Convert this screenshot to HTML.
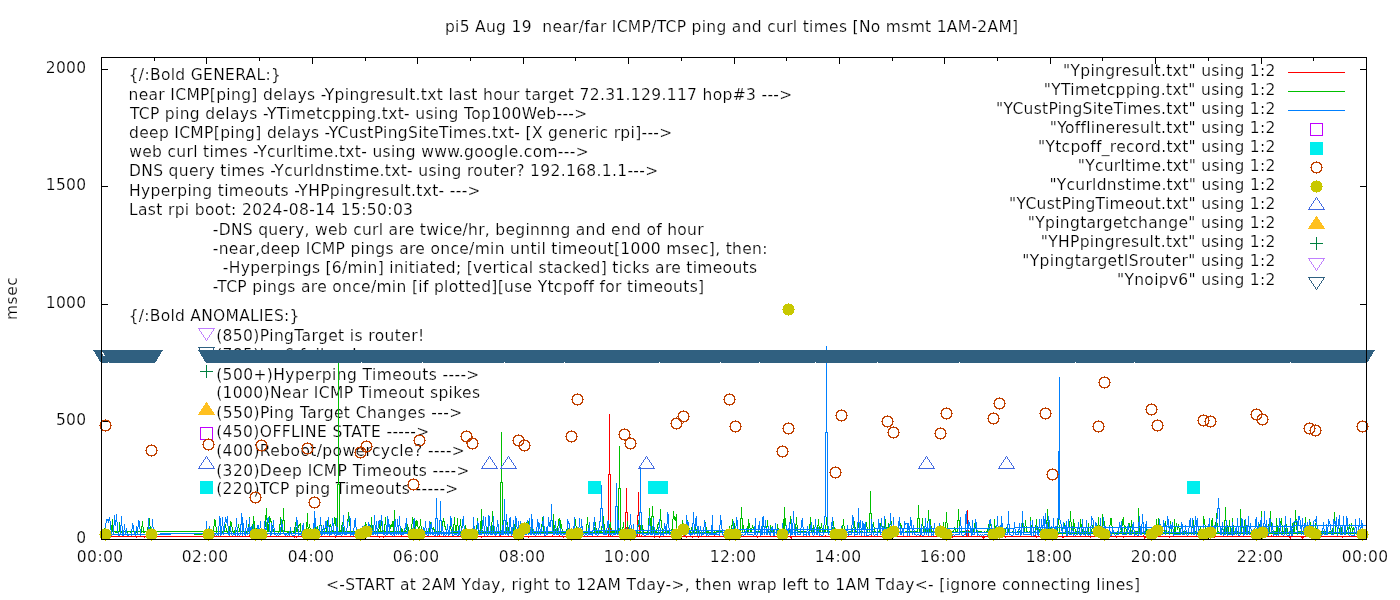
<!DOCTYPE html><html><head><meta charset="utf-8"><title>plot</title><style>html,body{margin:0;padding:0;background:#fff;overflow:hidden}svg{display:block}text{stroke:#fff;stroke-width:.2px;font-variant-ligatures:none}</style></head><body><svg width="1400" height="600" viewBox="0 0 1400 600" font-family="'DejaVu Sans','Liberation Sans',sans-serif" font-size="15.5" fill="#000">
<rect width="1400" height="600" fill="#fff"/>
<g shape-rendering="crispEdges" stroke="#000" stroke-width="1" fill="none">
<path d="M101.5 539 v-6 M101.5 58 v6"/>
<path d="M154.5 539 v-3 M154.5 58 v3"/>
<path d="M206.5 539 v-6 M206.5 58 v6"/>
<path d="M259.5 539 v-3 M259.5 58 v3"/>
<path d="M312.5 539 v-6 M312.5 58 v6"/>
<path d="M365.5 539 v-3 M365.5 58 v3"/>
<path d="M417.5 539 v-6 M417.5 58 v6"/>
<path d="M470.5 539 v-3 M470.5 58 v3"/>
<path d="M523.5 539 v-6 M523.5 58 v6"/>
<path d="M575.5 539 v-3 M575.5 58 v3"/>
<path d="M628.5 539 v-6 M628.5 58 v6"/>
<path d="M681.5 539 v-3 M681.5 58 v3"/>
<path d="M734.5 539 v-6 M734.5 58 v6"/>
<path d="M786.5 539 v-3 M786.5 58 v3"/>
<path d="M839.5 539 v-6 M839.5 58 v6"/>
<path d="M892.5 539 v-3 M892.5 58 v3"/>
<path d="M944.5 539 v-6 M944.5 58 v6"/>
<path d="M997.5 539 v-3 M997.5 58 v3"/>
<path d="M1050.5 539 v-6 M1050.5 58 v6"/>
<path d="M1102.5 539 v-3 M1102.5 58 v3"/>
<path d="M1155.5 539 v-6 M1155.5 58 v6"/>
<path d="M1208.5 539 v-3 M1208.5 58 v3"/>
<path d="M1261.5 539 v-6 M1261.5 58 v6"/>
<path d="M1313.5 539 v-3 M1313.5 58 v3"/>
<path d="M1366.5 539 v-6 M1366.5 58 v6"/>
<path d="M102 539.5 h6 M1366 539.5 h-6"/>
<path d="M102 421.5 h6 M1366 421.5 h-6"/>
<path d="M102 304.5 h6 M1366 304.5 h-6"/>
<path d="M102 186.5 h6 M1366 186.5 h-6"/>
<path d="M102 69.5 h6 M1366 69.5 h-6"/>
</g>
<text x="86.10" y="543.00" text-anchor="end" xml:space="preserve" textLength="9.9" lengthAdjust="spacing">0</text>
<text x="86.10" y="425.00" text-anchor="end" xml:space="preserve" textLength="30.2" lengthAdjust="spacing">500</text>
<text x="86.10" y="308.00" text-anchor="end" xml:space="preserve" textLength="40.4" lengthAdjust="spacing">1000</text>
<text x="86.10" y="190.00" text-anchor="end" xml:space="preserve" textLength="40.4" lengthAdjust="spacing">1500</text>
<text x="86.10" y="73.00" text-anchor="end" xml:space="preserve" textLength="40.4" lengthAdjust="spacing">2000</text>
<text x="100.00" y="561.80" text-anchor="middle" xml:space="preserve" textLength="46.3" lengthAdjust="spacing">00:00</text>
<text x="205.00" y="561.80" text-anchor="middle" xml:space="preserve" textLength="46.3" lengthAdjust="spacing">02:00</text>
<text x="311.00" y="561.80" text-anchor="middle" xml:space="preserve" textLength="46.3" lengthAdjust="spacing">04:00</text>
<text x="416.00" y="561.80" text-anchor="middle" xml:space="preserve" textLength="46.3" lengthAdjust="spacing">06:00</text>
<text x="522.00" y="561.80" text-anchor="middle" xml:space="preserve" textLength="46.3" lengthAdjust="spacing">08:00</text>
<text x="627.00" y="561.80" text-anchor="middle" xml:space="preserve" textLength="46.3" lengthAdjust="spacing">10:00</text>
<text x="733.00" y="561.80" text-anchor="middle" xml:space="preserve" textLength="46.3" lengthAdjust="spacing">12:00</text>
<text x="838.00" y="561.80" text-anchor="middle" xml:space="preserve" textLength="46.3" lengthAdjust="spacing">14:00</text>
<text x="943.00" y="561.80" text-anchor="middle" xml:space="preserve" textLength="46.3" lengthAdjust="spacing">16:00</text>
<text x="1049.00" y="561.80" text-anchor="middle" xml:space="preserve" textLength="46.3" lengthAdjust="spacing">18:00</text>
<text x="1154.00" y="561.80" text-anchor="middle" xml:space="preserve" textLength="46.3" lengthAdjust="spacing">20:00</text>
<text x="1260.00" y="561.80" text-anchor="middle" xml:space="preserve" textLength="46.3" lengthAdjust="spacing">22:00</text>
<text x="1365.00" y="561.80" text-anchor="middle" xml:space="preserve" textLength="46.3" lengthAdjust="spacing">00:00</text>
<text transform="translate(16.7,298.6) rotate(-90)" text-anchor="middle" textLength="43" lengthAdjust="spacing">msec</text>
<text x="128.69" y="80.00" text-anchor="start" xml:space="preserve" textLength="152.2" lengthAdjust="spacing">{/:Bold GENERAL:}</text>
<text x="128.49" y="100.00" text-anchor="start" xml:space="preserve" textLength="663.8" lengthAdjust="spacing">near ICMP[ping] delays -Ypingresult.txt last hour target 72.31.129.117 hop#3 ---&gt;</text>
<text x="129.88" y="118.75" text-anchor="start" xml:space="preserve" textLength="457.4" lengthAdjust="spacing">TCP ping delays -YTimetcpping.txt- using Top100Web---&gt;</text>
<text x="128.98" y="138.00" text-anchor="start" xml:space="preserve" textLength="543.3" lengthAdjust="spacing">deep ICMP[ping] delays -YCustPingSiteTimes.txt- [X generic rpi]---&gt;</text>
<text x="129.13" y="157.00" text-anchor="start" xml:space="preserve" textLength="459.5" lengthAdjust="spacing">web curl times -Ycurltime.txt- using www.google.com---&gt;</text>
<text x="129.00" y="176.25" text-anchor="start" xml:space="preserve" textLength="529.2" lengthAdjust="spacing">DNS query times -Ycurldnstime.txt- using router? 192.168.1.1---&gt;</text>
<text x="128.99" y="195.75" text-anchor="start" xml:space="preserve" textLength="351.6" lengthAdjust="spacing">Hyperping timeouts -YHPpingresult.txt- ---&gt;</text>
<text x="128.99" y="214.50" text-anchor="start" xml:space="preserve" textLength="284.0" lengthAdjust="spacing">Last rpi boot: 2024-08-14 15:50:03</text>
<text x="212.80" y="235.00" text-anchor="start" xml:space="preserve" textLength="490.8" lengthAdjust="spacing">-DNS query, web curl are twice/hr, beginnng and end of hour</text>
<text x="212.80" y="253.75" text-anchor="start" xml:space="preserve" textLength="554.7" lengthAdjust="spacing">-near,deep ICMP pings are once/min until timeout[1000 msec], then:</text>
<text x="222.80" y="272.50" text-anchor="start" xml:space="preserve" textLength="534.2" lengthAdjust="spacing">-Hyperpings [6/min] initiated; [vertical stacked] ticks are timeouts</text>
<text x="212.80" y="291.75" text-anchor="start" xml:space="preserve" textLength="491.3" lengthAdjust="spacing">-TCP pings are once/min [if plotted][use Ytcpoff for timeouts]</text>
<text x="128.69" y="320.75" text-anchor="start" xml:space="preserve" textLength="170.7" lengthAdjust="spacing">{/:Bold ANOMALIES:}</text>
<text x="216.17" y="340.75" text-anchor="start" xml:space="preserve" textLength="208.0" lengthAdjust="spacing">(850)PingTarget is router!</text>
<text x="216.17" y="360.00" text-anchor="start" xml:space="preserve" textLength="141.2" lengthAdjust="spacing">(785)Ipv6 failure!</text>
<text x="216.17" y="379.50" text-anchor="start" xml:space="preserve" textLength="263.2" lengthAdjust="spacing">(500+)Hyperping Timeouts ----&gt;</text>
<text x="216.17" y="397.50" text-anchor="start" xml:space="preserve" textLength="263.9" lengthAdjust="spacing">(1000)Near ICMP Timeout spikes</text>
<text x="216.17" y="417.50" text-anchor="start" xml:space="preserve" textLength="246.1" lengthAdjust="spacing">(550)Ping Target Changes ---&gt;</text>
<text x="216.17" y="437.00" text-anchor="start" xml:space="preserve" textLength="213.1" lengthAdjust="spacing">(450)OFFLINE STATE -----&gt;</text>
<text x="216.17" y="456.00" text-anchor="start" xml:space="preserve" textLength="248.7" lengthAdjust="spacing">(400)Reboot/powercycle? ----&gt;</text>
<text x="216.17" y="475.50" text-anchor="start" xml:space="preserve" textLength="253.3" lengthAdjust="spacing">(320)Deep ICMP Timeouts ----&gt;</text>
<text x="216.17" y="494.25" text-anchor="start" xml:space="preserve" textLength="242.2" lengthAdjust="spacing">(220)TCP ping Timeouts -----&gt;</text>
<text x="444.88" y="31.75" text-anchor="start" xml:space="preserve" textLength="573.3" lengthAdjust="spacing">pi5 Aug 19  near/far ICMP/TCP ping and curl times [No msmt 1AM-2AM]</text>
<text x="325.96" y="589.50" text-anchor="start" xml:space="preserve" textLength="814.1" lengthAdjust="spacing">&lt;-START at 2AM Yday, right to 12AM Tday-&gt;, then wrap left to 1AM Tday&lt;- [ignore connecting lines]</text>
<text x="1063.05" y="76.00" text-anchor="start" xml:space="preserve" textLength="212.3" lengthAdjust="spacing">&quot;Ypingresult.txt&quot; using 1:2</text>
<text x="1043.77" y="95.00" text-anchor="start" xml:space="preserve" textLength="231.6" lengthAdjust="spacing">&quot;YTimetcpping.txt&quot; using 1:2</text>
<text x="996.05" y="114.00" text-anchor="start" xml:space="preserve" textLength="279.3" lengthAdjust="spacing">&quot;YCustPingSiteTimes.txt&quot; using 1:2</text>
<text x="1049.77" y="133.00" text-anchor="start" xml:space="preserve" textLength="225.6" lengthAdjust="spacing">&quot;Yofflineresult.txt&quot; using 1:2</text>
<text x="1038.05" y="152.00" text-anchor="start" xml:space="preserve" textLength="237.3" lengthAdjust="spacing">&quot;Ytcpoff_record.txt&quot; using 1:2</text>
<text x="1077.77" y="171.00" text-anchor="start" xml:space="preserve" textLength="197.6" lengthAdjust="spacing">&quot;Ycurltime.txt&quot; using 1:2</text>
<text x="1049.41" y="190.00" text-anchor="start" xml:space="preserve" textLength="226.0" lengthAdjust="spacing">&quot;Ycurldnstime.txt&quot; using 1:2</text>
<text x="1009.05" y="209.00" text-anchor="start" xml:space="preserve" textLength="266.3" lengthAdjust="spacing">&quot;YCustPingTimeout.txt&quot; using 1:2</text>
<text x="1027.77" y="228.00" text-anchor="start" xml:space="preserve" textLength="247.6" lengthAdjust="spacing">&quot;Ypingtargetchange&quot; using 1:2</text>
<text x="1040.77" y="247.00" text-anchor="start" xml:space="preserve" textLength="234.6" lengthAdjust="spacing">&quot;YHPpingresult.txt&quot; using 1:2</text>
<text x="1022.35" y="266.00" text-anchor="start" xml:space="preserve" textLength="253.0" lengthAdjust="spacing">&quot;YpingtargetISrouter&quot; using 1:2</text>
<text x="1117.05" y="285.00" text-anchor="start" xml:space="preserve" textLength="158.3" lengthAdjust="spacing">&quot;Ynoipv6&quot; using 1:2</text>
<path d="M206.5 340.5 L198.5 328.5 L214.5 328.5 Z" fill="none" stroke="#c080ff" shape-rendering="crispEdges"/>
<path d="M206.5 359.5 L198.5 347.5 L214.5 347.5 Z" fill="none" stroke="#306080" shape-rendering="crispEdges"/>
<path d="M200.0 371.5 h13 M206.5 365.0 v13" stroke="#008040" shape-rendering="crispEdges"/>
<path d="M206.5 402.5 L198.5 414.5 L214.5 414.5 Z" fill="#ffc020" stroke="#ffc020" shape-rendering="crispEdges"/>
<rect x="200.5" y="427.5" width="12" height="12" fill="none" stroke="#c000ff" shape-rendering="crispEdges"/>
<path d="M206.5 456.5 L198.5 468.5 L214.5 468.5 Z" fill="none" stroke="#4169e1" shape-rendering="crispEdges"/>
<rect x="200.0" y="481.0" width="13" height="13" fill="#00eeee" shape-rendering="crispEdges"/>
<polyline fill="none" stroke="#ff0000" stroke-width="1" shape-rendering="crispEdges" stroke-linejoin="miter" points="206.5,536.5 207.5,536.5 208.5,536.5 209.5,535.5 210.5,536.5 211.5,536.5 212.5,536.5 213.5,536.5 213.5,536.5 214.5,536.5 215.5,536.5 216.5,536.5 217.5,536.5 218.5,536.5 219.5,536.5 220.5,536.5 220.5,536.5 221.5,536.5 222.5,536.5 223.5,536.5 224.5,536.5 225.5,536.5 226.5,536.5 227.5,536.5 228.5,536.5 228.5,536.5 229.5,536.5 230.5,536.5 231.5,536.5 232.5,536.5 233.5,536.5 234.5,536.5 235.5,536.5 235.5,536.5 236.5,536.5 237.5,536.5 238.5,536.5 239.5,536.5 240.5,536.5 241.5,536.5 242.5,536.5 242.5,536.5 243.5,536.5 244.5,536.5 245.5,536.5 246.5,536.5 247.5,536.5 248.5,536.5 249.5,535.5 249.5,536.5 250.5,536.5 251.5,536.5 252.5,536.5 253.5,536.5 254.5,536.5 255.5,536.5 256.5,536.5 256.5,537.5 257.5,537.5 258.5,536.5 259.5,536.5 260.5,536.5 261.5,536.5 262.5,536.5 263.5,536.5 264.5,536.5 264.5,536.5 265.5,536.5 266.5,536.5 267.5,536.5 268.5,536.5 269.5,536.5 270.5,536.5 271.5,536.5 271.5,536.5 272.5,536.5 273.5,536.5 274.5,536.5 275.5,536.5 276.5,536.5 277.5,536.5 278.5,536.5 278.5,536.5 279.5,536.5 280.5,536.5 281.5,536.5 282.5,536.5 283.5,536.5 284.5,536.5 285.5,536.5 285.5,536.5 286.5,536.5 287.5,536.5 288.5,536.5 289.5,536.5 290.5,536.5 291.5,536.5 292.5,536.5 293.5,536.5 293.5,536.5 294.5,537.5 295.5,536.5 296.5,537.5 297.5,536.5 298.5,536.5 299.5,536.5 300.5,536.5 300.5,536.5 301.5,536.5 302.5,536.5 303.5,536.5 304.5,536.5 305.5,536.5 306.5,536.5 307.5,536.5 307.5,536.5 308.5,536.5 309.5,536.5 310.5,537.5 311.5,536.5 312.5,536.5 313.5,536.5 314.5,536.5 314.5,536.5 315.5,536.5 316.5,536.5 317.5,536.5 318.5,536.5 319.5,536.5 320.5,536.5 321.5,536.5 321.5,536.5 322.5,536.5 323.5,536.5 324.5,536.5 325.5,536.5 326.5,536.5 327.5,536.5 328.5,536.5 329.5,536.5 329.5,536.5 330.5,536.5 331.5,536.5 332.5,536.5 333.5,536.5 334.5,536.5 335.5,537.5 336.5,536.5 336.5,536.5 337.5,536.5 338.5,536.5 339.5,536.5 340.5,536.5 341.5,536.5 342.5,536.5 343.5,536.5 343.5,536.5 344.5,536.5 345.5,536.5 346.5,536.5 347.5,536.5 348.5,536.5 349.5,536.5 350.5,536.5 350.5,536.5 351.5,536.5 352.5,536.5 353.5,536.5 354.5,536.5 355.5,536.5 356.5,536.5 357.5,536.5 358.5,536.5 358.5,536.5 359.5,536.5 360.5,536.5 361.5,536.5 362.5,536.5 363.5,536.5 364.5,536.5 365.5,536.5 365.5,536.5 366.5,536.5 367.5,536.5 368.5,536.5 369.5,536.5 370.5,535.5 371.5,536.5 372.5,536.5 372.5,536.5 373.5,536.5 374.5,536.5 375.5,536.5 376.5,536.5 377.5,536.5 378.5,536.5 379.5,537.5 379.5,536.5 380.5,536.5 381.5,536.5 382.5,536.5 383.5,537.5 384.5,536.5 385.5,536.5 386.5,536.5 387.5,536.5 387.5,536.5 388.5,536.5 389.5,536.5 390.5,536.5 391.5,536.5 392.5,536.5 393.5,536.5 394.5,536.5 394.5,536.5 395.5,536.5 396.5,536.5 397.5,536.5 398.5,536.5 399.5,536.5 400.5,536.5 401.5,536.5 401.5,535.5 402.5,536.5 403.5,536.5 404.5,536.5 405.5,536.5 406.5,536.5 407.5,536.5 408.5,536.5 408.5,535.5 409.5,536.5 410.5,536.5 411.5,536.5 412.5,536.5 413.5,536.5 414.5,536.5 415.5,536.5 415.5,536.5 416.5,536.5 417.5,536.5 418.5,536.5 419.5,536.5 420.5,536.5 421.5,536.5 422.5,536.5 423.5,536.5 423.5,536.5 424.5,536.5 425.5,536.5 426.5,536.5 427.5,536.5 428.5,536.5 429.5,536.5 430.5,536.5 430.5,536.5 431.5,536.5 432.5,536.5 433.5,536.5 434.5,536.5 435.5,536.5 436.5,536.5 437.5,536.5 437.5,536.5 438.5,536.5 439.5,535.5 440.5,536.5 441.5,536.5 442.5,536.5 443.5,536.5 444.5,536.5 444.5,536.5 445.5,536.5 446.5,536.5 447.5,536.5 448.5,536.5 449.5,536.5 450.5,536.5 451.5,536.5 452.5,536.5 452.5,536.5 453.5,536.5 454.5,536.5 455.5,536.5 456.5,536.5 457.5,536.5 458.5,536.5 459.5,536.5 459.5,536.5 460.5,536.5 461.5,536.5 462.5,536.5 463.5,536.5 464.5,536.5 465.5,536.5 466.5,536.5 466.5,536.5 467.5,536.5 468.5,536.5 469.5,536.5 470.5,536.5 471.5,536.5 472.5,536.5 473.5,536.5 473.5,536.5 474.5,536.5 475.5,536.5 476.5,536.5 477.5,536.5 478.5,536.5 479.5,536.5 480.5,536.5 481.5,536.5 481.5,537.5 482.5,536.5 483.5,536.5 484.5,536.5 485.5,536.5 486.5,536.5 487.5,536.5 488.5,536.5 488.5,536.5 489.5,536.5 490.5,536.5 491.5,536.5 492.5,536.5 493.5,536.5 494.5,536.5 495.5,536.5 495.5,536.5 496.5,536.5 497.5,536.5 498.5,536.5 499.5,536.5 500.5,535.5 501.5,536.5 502.5,536.5 502.5,536.5 503.5,536.5 504.5,536.5 505.5,536.5 506.5,536.5 507.5,536.5 508.5,536.5 509.5,536.5 509.5,536.5 510.5,536.5 511.5,536.5 512.5,536.5 513.5,536.5 514.5,536.5 515.5,536.5 516.5,535.5 517.5,536.5 517.5,536.5 518.5,536.5 519.5,536.5 520.5,536.5 521.5,536.5 522.5,536.5 523.5,537.5 524.5,536.5 524.5,536.5 525.5,536.5 526.5,536.5 527.5,536.5 528.5,537.5 529.5,536.5 530.5,536.5 531.5,536.5 531.5,536.5 532.5,536.5 533.5,536.5 534.5,536.5 535.5,536.5 536.5,536.5 537.5,536.5 538.5,536.5 538.5,536.5 539.5,536.5 540.5,536.5 541.5,536.5 542.5,536.5 543.5,536.5 544.5,536.5 545.5,536.5 546.5,536.5 546.5,536.5 547.5,536.5 548.5,536.5 549.5,536.5 550.5,536.5 551.5,536.5 552.5,535.5 553.5,536.5 553.5,536.5 554.5,536.5 555.5,536.5 556.5,536.5 557.5,536.5 558.5,536.5 559.5,535.5 560.5,536.5 560.5,536.5 561.5,536.5 562.5,536.5 563.5,537.5 564.5,536.5 565.5,536.5 566.5,536.5 567.5,536.5 567.5,536.5 568.5,536.5 569.5,536.5 570.5,537.5 571.5,536.5 572.5,536.5 573.5,536.5 574.5,536.5 574.5,536.5 575.5,536.5 576.5,536.5 577.5,536.5 578.5,536.5 579.5,536.5 580.5,536.5 581.5,537.5 582.5,536.5 582.5,536.5 583.5,536.5 584.5,536.5 585.5,536.5 586.5,536.5 587.5,536.5 588.5,536.5 589.5,536.5 589.5,536.5 590.5,536.5 591.5,536.5 592.5,536.5 593.5,536.5 594.5,536.5 595.5,536.5 596.5,536.5 596.5,536.5 597.5,536.5 598.5,536.5 599.5,536.5 600.5,536.5 601.5,536.5 602.5,536.5 603.5,536.5 603.5,536.5 604.5,536.5 605.5,536.5 606.5,536.5 607.5,536.5 608.5,536.5 608.5,474.5 609.5,474.5 609.5,413.5 609.5,474.5 610.5,474.5 610.5,536.5 611.5,536.5 611.5,536.5 612.5,536.5 613.5,536.5 614.5,536.5 615.5,536.5 616.5,536.5 617.5,536.5 618.5,536.5 618.5,536.5 619.5,536.5 620.5,535.5 621.5,537.5 622.5,536.5 623.5,536.5 624.5,536.5 625.5,536.5 625.5,512.5 626.5,512.5 626.5,487.5 626.5,512.5 627.5,512.5 627.5,536.5 628.5,536.5 629.5,536.5 630.5,536.5 631.5,536.5 632.5,536.5 632.5,536.5 633.5,536.5 634.5,536.5 635.5,536.5 636.5,536.5 637.5,536.5 637.5,515.5 638.5,515.5 638.5,491.5 638.5,515.5 639.5,515.5 639.5,536.5 640.5,536.5 640.5,536.5 641.5,535.5 642.5,536.5 643.5,536.5 644.5,536.5 645.5,536.5 646.5,536.5 647.5,536.5 647.5,536.5 648.5,536.5 649.5,536.5 650.5,536.5 651.5,536.5 652.5,536.5 653.5,536.5 654.5,536.5 654.5,537.5 655.5,536.5 656.5,536.5 657.5,536.5 658.5,536.5 659.5,537.5 660.5,536.5 661.5,536.5 661.5,536.5 662.5,536.5 663.5,536.5 664.5,536.5 665.5,536.5 666.5,536.5 667.5,536.5 668.5,536.5 668.5,536.5 669.5,536.5 670.5,536.5 671.5,536.5 672.5,536.5 673.5,535.5 674.5,536.5 675.5,536.5 676.5,536.5 676.5,536.5 677.5,536.5 678.5,536.5 679.5,536.5 680.5,536.5 681.5,536.5 682.5,536.5 683.5,536.5 683.5,536.5 684.5,535.5 685.5,536.5 686.5,537.5 687.5,536.5 688.5,536.5 689.5,536.5 690.5,536.5 690.5,536.5 691.5,536.5 692.5,537.5 693.5,536.5 694.5,536.5 695.5,536.5 696.5,536.5 697.5,536.5 697.5,536.5 698.5,537.5 699.5,536.5 700.5,536.5 701.5,536.5 702.5,536.5 703.5,536.5 704.5,536.5 705.5,536.5 705.5,536.5 706.5,536.5 707.5,536.5 708.5,536.5 709.5,536.5 710.5,536.5 711.5,536.5 712.5,536.5 712.5,536.5 713.5,536.5 714.5,535.5 715.5,536.5 716.5,536.5 717.5,536.5 718.5,536.5 719.5,536.5 719.5,536.5 720.5,536.5 721.5,536.5 722.5,536.5 723.5,536.5 724.5,536.5 725.5,536.5 726.5,536.5 726.5,536.5 727.5,536.5 728.5,536.5 729.5,536.5 730.5,536.5 731.5,536.5 732.5,536.5 733.5,536.5 734.5,536.5 734.5,536.5 735.5,536.5 736.5,536.5 737.5,536.5 738.5,536.5 739.5,535.5 740.5,535.5 741.5,536.5 741.5,536.5 742.5,536.5 743.5,536.5 744.5,536.5 745.5,536.5 746.5,536.5 747.5,536.5 748.5,536.5 748.5,536.5 749.5,536.5 750.5,536.5 751.5,536.5 752.5,536.5 753.5,536.5 754.5,536.5 755.5,536.5 755.5,536.5 756.5,536.5 757.5,537.5 758.5,536.5 759.5,536.5 760.5,536.5 761.5,536.5 762.5,536.5 762.5,536.5 763.5,536.5 764.5,536.5 765.5,536.5 766.5,536.5 767.5,536.5 768.5,536.5 769.5,536.5 770.5,536.5 770.5,536.5 771.5,536.5 772.5,536.5 773.5,536.5 774.5,536.5 775.5,536.5 776.5,536.5 777.5,536.5 777.5,536.5 778.5,536.5 779.5,536.5 780.5,536.5 781.5,536.5 782.5,536.5 783.5,536.5 784.5,536.5 784.5,536.5 785.5,536.5 786.5,536.5 787.5,536.5 788.5,536.5 789.5,536.5 790.5,536.5 791.5,538.5 791.5,536.5 792.5,536.5 793.5,536.5 794.5,536.5 795.5,536.5 796.5,536.5 797.5,536.5 798.5,536.5 799.5,536.5 799.5,536.5 800.5,536.5 801.5,536.5 802.5,536.5 803.5,536.5 804.5,536.5 805.5,536.5 806.5,536.5 806.5,536.5 807.5,536.5 808.5,536.5 809.5,536.5 810.5,536.5 811.5,536.5 812.5,536.5 813.5,536.5 813.5,536.5 814.5,536.5 815.5,536.5 816.5,536.5 817.5,536.5 818.5,536.5 819.5,536.5 820.5,536.5 820.5,536.5 821.5,536.5 822.5,536.5 823.5,536.5 824.5,536.5 825.5,535.5 826.5,536.5 827.5,536.5 827.5,536.5 828.5,536.5 829.5,536.5 830.5,536.5 831.5,536.5 832.5,536.5 833.5,536.5 834.5,536.5 835.5,536.5 835.5,536.5 836.5,536.5 837.5,536.5 838.5,536.5 839.5,536.5 840.5,536.5 841.5,536.5 842.5,536.5 842.5,536.5 843.5,536.5 844.5,536.5 845.5,536.5 846.5,536.5 847.5,536.5 848.5,536.5 849.5,536.5 849.5,536.5 850.5,536.5 851.5,536.5 852.5,536.5 853.5,536.5 854.5,536.5 855.5,536.5 856.5,536.5 856.5,536.5 857.5,536.5 858.5,536.5 859.5,536.5 860.5,536.5 861.5,536.5 862.5,536.5 863.5,536.5 864.5,536.5 864.5,536.5 865.5,536.5 866.5,536.5 867.5,536.5 868.5,536.5 869.5,536.5 870.5,536.5 871.5,535.5 871.5,536.5 872.5,536.5 873.5,536.5 874.5,536.5 875.5,536.5 876.5,536.5 877.5,536.5 878.5,536.5 878.5,536.5 879.5,536.5 880.5,536.5 881.5,536.5 882.5,536.5 883.5,536.5 884.5,536.5 885.5,536.5 885.5,536.5 886.5,536.5 887.5,536.5 888.5,536.5 889.5,536.5 890.5,536.5 891.5,537.5 892.5,536.5 893.5,536.5 893.5,536.5 894.5,536.5 895.5,536.5 896.5,536.5 897.5,536.5 898.5,536.5 899.5,536.5 900.5,536.5 900.5,536.5 901.5,536.5 902.5,536.5 903.5,536.5 904.5,536.5 905.5,536.5 906.5,536.5 907.5,536.5 907.5,536.5 908.5,536.5 909.5,536.5 910.5,536.5 911.5,536.5 912.5,536.5 913.5,536.5 914.5,536.5 914.5,536.5 915.5,536.5 916.5,536.5 917.5,536.5 918.5,536.5 919.5,536.5 920.5,535.5 921.5,536.5 921.5,536.5 922.5,536.5 923.5,536.5 924.5,536.5 925.5,536.5 926.5,536.5 927.5,536.5 928.5,536.5 929.5,536.5 929.5,536.5 930.5,536.5 931.5,536.5 932.5,536.5 933.5,536.5 934.5,536.5 935.5,536.5 936.5,536.5 936.5,536.5 937.5,536.5 938.5,536.5 939.5,536.5 940.5,536.5 941.5,537.5 942.5,536.5 943.5,536.5 943.5,536.5 944.5,536.5 945.5,536.5 946.5,536.5 947.5,535.5 948.5,536.5 949.5,536.5 950.5,536.5 950.5,536.5 951.5,536.5 952.5,537.5 953.5,536.5 954.5,536.5 955.5,536.5 956.5,536.5 957.5,536.5 958.5,536.5 958.5,536.5 959.5,536.5 960.5,536.5 961.5,536.5 962.5,536.5 963.5,536.5 964.5,536.5 965.5,536.5 965.5,536.5 966.5,536.5 966.5,530.5 967.5,530.5 967.5,509.5 967.5,530.5 968.5,530.5 968.5,536.5 969.5,536.5 970.5,536.5 971.5,536.5 972.5,536.5 972.5,536.5 973.5,536.5 974.5,536.5 975.5,536.5 976.5,536.5 977.5,536.5 978.5,536.5 979.5,536.5 979.5,536.5 980.5,536.5 981.5,536.5 982.5,536.5 983.5,538.5 984.5,536.5 985.5,536.5 986.5,536.5 987.5,536.5 987.5,536.5 988.5,536.5 989.5,536.5 990.5,536.5 991.5,536.5 992.5,536.5 993.5,536.5 994.5,536.5 994.5,536.5 995.5,536.5 996.5,536.5 997.5,536.5 998.5,536.5 999.5,536.5 1000.5,536.5 1001.5,536.5 1001.5,536.5 1002.5,536.5 1003.5,536.5 1004.5,536.5 1005.5,537.5 1006.5,536.5 1007.5,536.5 1008.5,536.5 1008.5,536.5 1009.5,536.5 1010.5,536.5 1011.5,536.5 1012.5,536.5 1013.5,536.5 1014.5,536.5 1015.5,536.5 1015.5,536.5 1016.5,536.5 1017.5,536.5 1018.5,536.5 1019.5,536.5 1020.5,536.5 1021.5,536.5 1022.5,536.5 1023.5,536.5 1023.5,536.5 1024.5,536.5 1025.5,536.5 1026.5,536.5 1027.5,536.5 1028.5,536.5 1029.5,536.5 1030.5,536.5 1030.5,536.5 1031.5,536.5 1032.5,536.5 1033.5,536.5 1034.5,536.5 1035.5,535.5 1036.5,537.5 1037.5,536.5 1037.5,536.5 1038.5,536.5 1039.5,536.5 1040.5,536.5 1041.5,536.5 1042.5,536.5 1043.5,536.5 1044.5,536.5 1044.5,536.5 1045.5,536.5 1046.5,536.5 1047.5,536.5 1048.5,536.5 1049.5,536.5 1050.5,536.5 1051.5,536.5 1052.5,536.5 1052.5,536.5 1053.5,536.5 1054.5,536.5 1055.5,536.5 1056.5,536.5 1057.5,536.5 1058.5,536.5 1059.5,536.5 1059.5,536.5 1060.5,536.5 1061.5,536.5 1062.5,537.5 1063.5,537.5 1064.5,536.5 1065.5,536.5 1066.5,536.5 1066.5,536.5 1067.5,536.5 1068.5,536.5 1069.5,536.5 1070.5,536.5 1071.5,536.5 1072.5,536.5 1073.5,536.5 1073.5,536.5 1074.5,536.5 1075.5,536.5 1076.5,536.5 1077.5,536.5 1078.5,536.5 1079.5,536.5 1080.5,536.5 1080.5,536.5 1081.5,536.5 1082.5,536.5 1083.5,536.5 1084.5,536.5 1085.5,536.5 1086.5,536.5 1087.5,536.5 1088.5,536.5 1088.5,536.5 1089.5,536.5 1090.5,537.5 1091.5,536.5 1092.5,536.5 1093.5,536.5 1094.5,536.5 1095.5,536.5 1095.5,536.5 1096.5,536.5 1097.5,536.5 1098.5,536.5 1099.5,536.5 1100.5,536.5 1101.5,536.5 1102.5,536.5 1102.5,536.5 1103.5,536.5 1104.5,536.5 1105.5,536.5 1106.5,536.5 1107.5,536.5 1108.5,536.5 1109.5,536.5 1109.5,536.5 1110.5,536.5 1111.5,536.5 1112.5,536.5 1113.5,536.5 1114.5,536.5 1115.5,536.5 1116.5,537.5 1117.5,536.5 1117.5,536.5 1118.5,536.5 1119.5,536.5 1120.5,536.5 1121.5,536.5 1122.5,536.5 1123.5,537.5 1124.5,536.5 1124.5,536.5 1125.5,536.5 1126.5,536.5 1127.5,536.5 1128.5,536.5 1129.5,536.5 1130.5,536.5 1131.5,536.5 1131.5,536.5 1132.5,536.5 1133.5,536.5 1134.5,536.5 1135.5,536.5 1136.5,536.5 1137.5,536.5 1138.5,536.5 1138.5,536.5 1139.5,536.5 1140.5,536.5 1141.5,536.5 1142.5,536.5 1143.5,535.5 1144.5,538.5 1145.5,536.5 1146.5,536.5 1146.5,536.5 1147.5,536.5 1148.5,536.5 1149.5,536.5 1150.5,536.5 1151.5,536.5 1152.5,538.5 1153.5,536.5 1153.5,536.5 1154.5,536.5 1155.5,536.5 1156.5,536.5 1157.5,536.5 1158.5,536.5 1159.5,536.5 1160.5,536.5 1160.5,536.5 1161.5,536.5 1162.5,536.5 1163.5,536.5 1164.5,536.5 1165.5,536.5 1166.5,536.5 1167.5,536.5 1167.5,536.5 1168.5,536.5 1169.5,537.5 1170.5,536.5 1171.5,536.5 1172.5,536.5 1173.5,536.5 1174.5,536.5 1174.5,536.5 1175.5,536.5 1176.5,536.5 1177.5,536.5 1178.5,536.5 1179.5,536.5 1180.5,536.5 1181.5,536.5 1182.5,536.5 1182.5,536.5 1183.5,536.5 1184.5,536.5 1185.5,536.5 1186.5,536.5 1187.5,536.5 1188.5,536.5 1189.5,536.5 1189.5,536.5 1190.5,536.5 1191.5,536.5 1192.5,536.5 1193.5,536.5 1194.5,536.5 1195.5,536.5 1196.5,536.5 1196.5,536.5 1197.5,536.5 1198.5,536.5 1199.5,536.5 1200.5,536.5 1201.5,536.5 1202.5,536.5 1203.5,536.5 1203.5,536.5 1204.5,536.5 1205.5,536.5 1206.5,536.5 1207.5,536.5 1208.5,536.5 1209.5,536.5 1210.5,536.5 1211.5,536.5 1211.5,536.5 1212.5,536.5 1213.5,536.5 1214.5,537.5 1215.5,536.5 1216.5,536.5 1217.5,536.5 1218.5,536.5 1218.5,536.5 1219.5,536.5 1220.5,536.5 1221.5,536.5 1222.5,536.5 1223.5,536.5 1224.5,536.5 1225.5,536.5 1225.5,536.5 1226.5,536.5 1227.5,536.5 1228.5,536.5 1229.5,536.5 1230.5,536.5 1231.5,536.5 1232.5,536.5 1232.5,536.5 1233.5,536.5 1234.5,536.5 1235.5,536.5 1236.5,536.5 1237.5,536.5 1238.5,536.5 1239.5,536.5 1240.5,536.5 1240.5,536.5 1241.5,536.5 1242.5,536.5 1243.5,536.5 1244.5,536.5 1245.5,536.5 1246.5,536.5 1247.5,536.5 1247.5,536.5 1248.5,536.5 1249.5,536.5 1250.5,536.5 1251.5,536.5 1252.5,536.5 1253.5,536.5 1254.5,536.5 1254.5,536.5 1255.5,536.5 1256.5,536.5 1257.5,536.5 1258.5,536.5 1259.5,536.5 1260.5,536.5 1261.5,536.5 1261.5,536.5 1262.5,536.5 1263.5,536.5 1264.5,536.5 1265.5,536.5 1266.5,536.5 1267.5,536.5 1268.5,536.5 1268.5,536.5 1269.5,536.5 1270.5,536.5 1271.5,535.5 1272.5,536.5 1273.5,536.5 1274.5,536.5 1275.5,536.5 1276.5,536.5 1276.5,536.5 1277.5,536.5 1278.5,536.5 1279.5,536.5 1280.5,536.5 1281.5,536.5 1282.5,536.5 1283.5,536.5 1283.5,536.5 1284.5,536.5 1285.5,536.5 1286.5,536.5 1287.5,536.5 1288.5,536.5 1289.5,536.5 1290.5,538.5 1290.5,536.5 1291.5,536.5 1292.5,536.5 1293.5,536.5 1294.5,536.5 1295.5,536.5 1296.5,536.5 1297.5,536.5 1297.5,536.5 1298.5,536.5 1299.5,536.5 1300.5,536.5 1301.5,536.5 1302.5,538.5 1303.5,536.5 1304.5,536.5 1305.5,536.5 1305.5,536.5 1306.5,536.5 1307.5,536.5 1308.5,536.5 1309.5,536.5 1310.5,536.5 1311.5,536.5 1312.5,536.5 1312.5,536.5 1313.5,536.5 1314.5,536.5 1315.5,536.5 1316.5,536.5 1317.5,536.5 1318.5,536.5 1319.5,536.5 1319.5,536.5 1320.5,536.5 1321.5,536.5 1322.5,536.5 1323.5,536.5 1324.5,536.5 1325.5,536.5 1326.5,536.5 1326.5,536.5 1327.5,536.5 1328.5,536.5 1329.5,536.5 1330.5,536.5 1331.5,536.5 1332.5,536.5 1333.5,536.5 1333.5,536.5 1334.5,536.5 1335.5,536.5 1336.5,536.5 1337.5,536.5 1338.5,536.5 1339.5,536.5 1340.5,536.5 1341.5,536.5 1341.5,536.5 1342.5,537.5 1343.5,536.5 1344.5,536.5 1345.5,536.5 1346.5,536.5 1347.5,536.5 1348.5,536.5 1348.5,536.5 1349.5,536.5 1350.5,536.5 1351.5,536.5 1352.5,536.5 1353.5,536.5 1354.5,536.5 1355.5,536.5 1355.5,536.5 1356.5,536.5 1357.5,536.5 1358.5,536.5 1359.5,536.5 1360.5,536.5 1361.5,536.5 1362.5,536.5 1362.5,536.5 1363.5,536.5 1364.5,536.5 1365.5,536.5 1366.5,536.5 101.5,536.5 102.5,536.5 103.5,536.5 104.5,535.5 105.5,536.5 105.5,536.5 106.5,536.5 107.5,536.5 108.5,535.5 109.5,536.5 110.5,536.5 111.5,536.5 112.5,536.5 112.5,536.5 113.5,536.5 114.5,536.5 115.5,536.5 116.5,536.5 117.5,536.5 118.5,536.5 119.5,536.5 119.5,536.5 120.5,536.5 121.5,536.5 122.5,536.5 123.5,536.5 124.5,536.5 125.5,536.5 126.5,536.5 126.5,536.5 127.5,536.5 128.5,536.5 129.5,536.5 130.5,536.5 131.5,536.5 132.5,536.5 133.5,536.5 134.5,536.5 134.5,536.5 135.5,536.5 136.5,537.5 137.5,536.5 138.5,536.5 139.5,536.5 140.5,536.5 141.5,536.5 141.5,536.5 142.5,536.5 143.5,536.5 144.5,537.5 145.5,536.5 146.5,536.5 147.5,536.5 148.5,536.5 148.5,536.5 149.5,536.5 150.5,536.5 151.5,536.5 152.5,536.5 153.5,536.5 154.5,537.5"/>
<polyline fill="none" stroke="#00c000" stroke-width="1" shape-rendering="crispEdges" stroke-linejoin="miter" points="206.5,531.5 207.5,531.5 208.5,531.5 209.5,532.5 210.5,532.5 211.5,532.5 212.5,531.5 213.5,531.5 213.5,532.5 214.5,519.5 215.5,520.5 216.5,532.5 217.5,531.5 218.5,531.5 219.5,531.5 220.5,532.5 220.5,532.5 221.5,531.5 222.5,532.5 223.5,532.5 224.5,531.5 225.5,524.5 226.5,530.5 227.5,532.5 228.5,531.5 228.5,531.5 229.5,531.5 230.5,521.5 231.5,522.5 232.5,531.5 233.5,532.5 234.5,532.5 235.5,528.5 235.5,528.5 236.5,531.5 237.5,532.5 238.5,524.5 239.5,531.5 240.5,532.5 241.5,531.5 242.5,532.5 242.5,523.5 243.5,531.5 244.5,532.5 245.5,532.5 246.5,532.5 247.5,531.5 248.5,531.5 249.5,517.5 249.5,532.5 250.5,532.5 251.5,531.5 252.5,531.5 253.5,516.5 254.5,525.5 255.5,532.5 256.5,531.5 256.5,528.5 257.5,532.5 258.5,532.5 259.5,532.5 260.5,532.5 261.5,531.5 262.5,532.5 263.5,531.5 264.5,531.5 264.5,531.5 265.5,522.5 266.5,508.5 267.5,531.5 268.5,531.5 269.5,516.5 270.5,519.5 271.5,524.5 271.5,521.5 272.5,527.5 273.5,531.5 274.5,531.5 275.5,531.5 276.5,531.5 277.5,531.5 278.5,531.5 278.5,532.5 279.5,531.5 280.5,517.5 281.5,531.5 282.5,531.5 282.5,520.5 283.5,520.5 283.5,507.5 283.5,520.5 284.5,520.5 284.5,531.5 285.5,531.5 285.5,531.5 286.5,531.5 287.5,532.5 288.5,532.5 289.5,531.5 290.5,532.5 291.5,531.5 292.5,531.5 293.5,532.5 293.5,532.5 294.5,532.5 295.5,522.5 296.5,531.5 297.5,531.5 298.5,525.5 299.5,525.5 300.5,523.5 300.5,531.5 301.5,532.5 302.5,532.5 303.5,532.5 304.5,531.5 305.5,531.5 306.5,531.5 307.5,513.5 307.5,522.5 308.5,531.5 309.5,524.5 310.5,531.5 311.5,532.5 312.5,532.5 313.5,532.5 314.5,532.5 314.5,531.5 315.5,526.5 316.5,532.5 317.5,526.5 318.5,531.5 319.5,531.5 320.5,518.5 321.5,531.5 321.5,532.5 322.5,532.5 323.5,525.5 324.5,532.5 325.5,525.5 326.5,532.5 327.5,520.5 328.5,523.5 329.5,529.5 329.5,525.5 330.5,524.5 331.5,529.5 332.5,531.5 333.5,531.5 334.5,517.5 335.5,518.5 336.5,532.5 336.5,531.5 337.5,531.5 337.5,484.5 338.5,484.5 338.5,356.5 338.5,484.5 339.5,484.5 339.5,531.5 340.5,532.5 341.5,528.5 342.5,522.5 343.5,531.5 343.5,531.5 344.5,532.5 345.5,531.5 346.5,531.5 347.5,525.5 348.5,512.5 349.5,519.5 350.5,531.5 350.5,532.5 351.5,532.5 352.5,531.5 353.5,531.5 354.5,531.5 355.5,531.5 356.5,531.5 357.5,532.5 358.5,532.5 358.5,532.5 359.5,532.5 360.5,532.5 361.5,532.5 362.5,532.5 363.5,531.5 364.5,532.5 365.5,532.5 365.5,522.5 366.5,525.5 367.5,531.5 368.5,531.5 369.5,531.5 370.5,532.5 371.5,517.5 372.5,532.5 372.5,531.5 373.5,532.5 374.5,531.5 375.5,531.5 376.5,532.5 377.5,531.5 378.5,531.5 379.5,527.5 379.5,520.5 380.5,532.5 381.5,519.5 382.5,531.5 383.5,532.5 384.5,531.5 385.5,517.5 386.5,532.5 387.5,532.5 387.5,531.5 388.5,532.5 389.5,532.5 390.5,525.5 391.5,526.5 392.5,521.5 393.5,531.5 394.5,510.5 394.5,532.5 395.5,531.5 396.5,531.5 397.5,531.5 398.5,532.5 399.5,532.5 400.5,531.5 401.5,531.5 401.5,528.5 402.5,530.5 403.5,532.5 404.5,532.5 405.5,532.5 406.5,527.5 407.5,524.5 408.5,532.5 408.5,527.5 409.5,532.5 410.5,532.5 411.5,531.5 412.5,517.5 413.5,520.5 414.5,531.5 415.5,521.5 415.5,531.5 416.5,520.5 417.5,521.5 418.5,531.5 419.5,532.5 420.5,519.5 421.5,532.5 422.5,531.5 423.5,532.5 423.5,531.5 424.5,532.5 425.5,531.5 426.5,531.5 427.5,531.5 428.5,532.5 429.5,532.5 430.5,522.5 430.5,531.5 431.5,522.5 432.5,532.5 433.5,527.5 434.5,531.5 435.5,532.5 436.5,531.5 437.5,531.5 437.5,532.5 438.5,531.5 439.5,532.5 440.5,531.5 441.5,532.5 442.5,522.5 443.5,519.5 444.5,523.5 444.5,525.5 445.5,527.5 446.5,531.5 447.5,532.5 448.5,532.5 449.5,532.5 450.5,525.5 451.5,531.5 452.5,531.5 452.5,532.5 453.5,531.5 454.5,517.5 455.5,531.5 456.5,532.5 457.5,518.5 458.5,532.5 459.5,532.5 459.5,531.5 460.5,519.5 461.5,531.5 462.5,531.5 463.5,532.5 464.5,532.5 465.5,525.5 466.5,532.5 466.5,531.5 467.5,531.5 468.5,531.5 469.5,531.5 470.5,532.5 471.5,532.5 472.5,532.5 473.5,532.5 473.5,532.5 474.5,531.5 475.5,532.5 476.5,531.5 477.5,518.5 478.5,531.5 479.5,531.5 480.5,532.5 481.5,509.5 481.5,527.5 482.5,532.5 483.5,531.5 484.5,532.5 485.5,531.5 486.5,531.5 487.5,532.5 488.5,521.5 488.5,531.5 489.5,531.5 490.5,532.5 491.5,532.5 492.5,511.5 493.5,532.5 494.5,532.5 495.5,531.5 495.5,532.5 496.5,531.5 497.5,532.5 498.5,531.5 499.5,532.5 500.5,532.5 500.5,482.5 501.5,482.5 501.5,431.5 501.5,482.5 502.5,482.5 502.5,532.5 503.5,531.5 504.5,531.5 505.5,531.5 506.5,532.5 507.5,522.5 508.5,531.5 509.5,531.5 509.5,532.5 510.5,531.5 511.5,531.5 512.5,532.5 513.5,531.5 514.5,524.5 515.5,531.5 516.5,521.5 517.5,532.5 517.5,531.5 518.5,531.5 519.5,531.5 520.5,532.5 521.5,527.5 522.5,523.5 523.5,531.5 524.5,526.5 524.5,531.5 525.5,526.5 526.5,522.5 527.5,531.5 528.5,521.5 529.5,520.5 530.5,532.5 531.5,532.5 531.5,518.5 532.5,532.5 533.5,532.5 534.5,531.5 535.5,532.5 536.5,531.5 537.5,531.5 538.5,532.5 538.5,531.5 539.5,531.5 540.5,532.5 541.5,531.5 542.5,517.5 543.5,532.5 544.5,531.5 545.5,531.5 546.5,531.5 546.5,531.5 547.5,532.5 548.5,531.5 549.5,532.5 550.5,532.5 551.5,531.5 552.5,532.5 553.5,514.5 553.5,532.5 554.5,525.5 555.5,531.5 556.5,531.5 557.5,532.5 558.5,519.5 559.5,518.5 560.5,530.5 560.5,520.5 561.5,526.5 562.5,531.5 563.5,531.5 564.5,532.5 565.5,532.5 566.5,531.5 567.5,526.5 567.5,522.5 568.5,532.5 569.5,531.5 570.5,531.5 571.5,532.5 572.5,531.5 573.5,531.5 574.5,523.5 574.5,532.5 575.5,519.5 576.5,531.5 577.5,532.5 578.5,531.5 579.5,531.5 580.5,532.5 581.5,531.5 582.5,531.5 582.5,531.5 583.5,532.5 584.5,532.5 585.5,532.5 586.5,531.5 587.5,517.5 588.5,532.5 589.5,531.5 589.5,532.5 590.5,532.5 591.5,532.5 592.5,532.5 593.5,532.5 594.5,532.5 595.5,522.5 596.5,532.5 596.5,532.5 597.5,531.5 598.5,532.5 599.5,531.5 600.5,531.5 601.5,532.5 602.5,519.5 603.5,516.5 603.5,520.5 604.5,526.5 605.5,532.5 606.5,532.5 607.5,531.5 608.5,531.5 609.5,526.5 610.5,522.5 611.5,532.5 611.5,531.5 612.5,531.5 613.5,531.5 614.5,531.5 615.5,531.5 616.5,531.5 617.5,532.5 618.5,532.5 618.5,488.5 619.5,488.5 619.5,445.5 619.5,488.5 620.5,488.5 620.5,532.5 621.5,532.5 622.5,531.5 623.5,522.5 624.5,532.5 625.5,531.5 625.5,532.5 626.5,532.5 627.5,521.5 628.5,532.5 629.5,532.5 630.5,532.5 631.5,531.5 632.5,531.5 632.5,532.5 633.5,531.5 634.5,531.5 635.5,532.5 636.5,532.5 637.5,532.5 638.5,521.5 639.5,518.5 640.5,531.5 640.5,531.5 641.5,523.5 642.5,527.5 643.5,531.5 644.5,532.5 645.5,532.5 646.5,532.5 647.5,532.5 647.5,531.5 648.5,531.5 648.5,518.5 649.5,518.5 649.5,507.5 649.5,518.5 650.5,518.5 650.5,531.5 651.5,531.5 651.5,516.5 652.5,516.5 652.5,505.5 652.5,516.5 653.5,516.5 653.5,531.5 654.5,531.5 654.5,532.5 655.5,531.5 656.5,531.5 657.5,526.5 658.5,522.5 659.5,522.5 659.5,520.5 660.5,520.5 660.5,508.5 660.5,520.5 661.5,520.5 661.5,522.5 662.5,532.5 663.5,531.5 664.5,532.5 665.5,531.5 666.5,527.5 667.5,532.5 668.5,532.5 668.5,531.5 669.5,532.5 670.5,532.5 671.5,531.5 672.5,527.5 673.5,511.5 674.5,519.5 675.5,520.5 676.5,514.5 676.5,527.5 677.5,531.5 678.5,531.5 679.5,532.5 680.5,527.5 681.5,529.5 682.5,520.5 683.5,531.5 683.5,531.5 684.5,532.5 685.5,532.5 686.5,531.5 687.5,520.5 688.5,524.5 689.5,531.5 690.5,532.5 690.5,532.5 691.5,527.5 692.5,531.5 693.5,531.5 694.5,532.5 695.5,527.5 696.5,531.5 697.5,531.5 697.5,531.5 698.5,531.5 699.5,531.5 700.5,532.5 701.5,531.5 702.5,532.5 703.5,531.5 704.5,532.5 705.5,531.5 705.5,522.5 706.5,531.5 707.5,531.5 708.5,531.5 709.5,532.5 710.5,532.5 711.5,531.5 712.5,531.5 712.5,532.5 713.5,532.5 714.5,531.5 715.5,532.5 716.5,531.5 717.5,531.5 718.5,531.5 719.5,532.5 719.5,532.5 720.5,531.5 721.5,531.5 722.5,532.5 723.5,532.5 724.5,531.5 725.5,532.5 726.5,531.5 726.5,531.5 727.5,531.5 728.5,532.5 729.5,526.5 730.5,531.5 731.5,531.5 732.5,519.5 733.5,532.5 734.5,532.5 734.5,523.5 735.5,532.5 736.5,532.5 737.5,528.5 738.5,531.5 739.5,531.5 740.5,531.5 740.5,518.5 741.5,518.5 741.5,506.5 741.5,518.5 742.5,518.5 742.5,531.5 743.5,525.5 744.5,532.5 745.5,532.5 746.5,532.5 747.5,532.5 748.5,519.5 748.5,532.5 749.5,523.5 750.5,531.5 751.5,531.5 752.5,525.5 753.5,528.5 754.5,527.5 755.5,532.5 755.5,532.5 756.5,531.5 757.5,532.5 758.5,531.5 759.5,531.5 760.5,531.5 761.5,532.5 762.5,531.5 762.5,532.5 763.5,520.5 764.5,532.5 765.5,532.5 766.5,531.5 767.5,520.5 768.5,532.5 769.5,531.5 770.5,531.5 770.5,525.5 771.5,531.5 772.5,526.5 773.5,531.5 774.5,532.5 775.5,532.5 776.5,532.5 777.5,532.5 777.5,524.5 778.5,531.5 779.5,531.5 780.5,532.5 781.5,531.5 782.5,532.5 783.5,531.5 784.5,507.5 784.5,531.5 785.5,518.5 786.5,532.5 787.5,531.5 788.5,531.5 789.5,532.5 790.5,516.5 791.5,526.5 791.5,532.5 792.5,531.5 793.5,532.5 794.5,532.5 795.5,531.5 796.5,517.5 797.5,531.5 798.5,531.5 799.5,531.5 799.5,532.5 800.5,532.5 801.5,531.5 802.5,531.5 803.5,532.5 804.5,531.5 805.5,531.5 806.5,532.5 806.5,531.5 807.5,532.5 808.5,532.5 809.5,531.5 810.5,517.5 811.5,531.5 812.5,531.5 813.5,525.5 813.5,531.5 814.5,532.5 815.5,532.5 816.5,532.5 817.5,531.5 818.5,519.5 819.5,531.5 820.5,531.5 820.5,531.5 821.5,523.5 822.5,532.5 823.5,526.5 824.5,532.5 825.5,532.5 826.5,517.5 827.5,532.5 827.5,531.5 828.5,531.5 829.5,531.5 830.5,531.5 831.5,532.5 832.5,532.5 833.5,521.5 834.5,532.5 835.5,532.5 835.5,532.5 836.5,532.5 837.5,532.5 838.5,531.5 839.5,531.5 840.5,532.5 841.5,532.5 842.5,532.5 842.5,531.5 843.5,519.5 844.5,531.5 845.5,532.5 846.5,531.5 847.5,532.5 848.5,531.5 849.5,532.5 849.5,531.5 850.5,531.5 851.5,531.5 852.5,532.5 853.5,524.5 854.5,521.5 855.5,531.5 856.5,532.5 856.5,531.5 857.5,531.5 858.5,523.5 859.5,531.5 860.5,531.5 861.5,531.5 862.5,531.5 863.5,532.5 864.5,532.5 864.5,532.5 865.5,523.5 866.5,522.5 867.5,531.5 868.5,532.5 869.5,532.5 869.5,513.5 870.5,513.5 870.5,490.5 870.5,513.5 871.5,513.5 871.5,532.5 872.5,532.5 873.5,522.5 874.5,531.5 875.5,531.5 876.5,532.5 877.5,531.5 878.5,531.5 878.5,532.5 879.5,532.5 880.5,524.5 881.5,526.5 882.5,526.5 883.5,532.5 884.5,532.5 885.5,519.5 885.5,531.5 886.5,527.5 887.5,531.5 888.5,523.5 889.5,531.5 890.5,519.5 891.5,522.5 892.5,531.5 893.5,531.5 893.5,531.5 894.5,531.5 895.5,532.5 896.5,531.5 897.5,531.5 898.5,531.5 899.5,532.5 900.5,532.5 900.5,523.5 901.5,527.5 902.5,530.5 903.5,531.5 904.5,532.5 905.5,531.5 906.5,531.5 907.5,531.5 907.5,532.5 908.5,531.5 909.5,531.5 910.5,531.5 911.5,531.5 912.5,531.5 913.5,531.5 914.5,531.5 914.5,532.5 915.5,531.5 916.5,531.5 917.5,531.5 917.5,518.5 918.5,518.5 918.5,504.5 918.5,518.5 919.5,518.5 919.5,531.5 920.5,531.5 921.5,532.5 921.5,532.5 922.5,518.5 923.5,532.5 924.5,527.5 925.5,531.5 926.5,532.5 927.5,532.5 928.5,510.5 929.5,531.5 929.5,522.5 930.5,520.5 931.5,531.5 932.5,531.5 933.5,531.5 934.5,531.5 935.5,532.5 936.5,531.5 936.5,531.5 937.5,531.5 938.5,532.5 939.5,531.5 940.5,532.5 941.5,531.5 942.5,531.5 943.5,522.5 943.5,531.5 944.5,531.5 945.5,532.5 946.5,512.5 947.5,532.5 948.5,531.5 949.5,531.5 950.5,532.5 950.5,532.5 951.5,531.5 952.5,531.5 953.5,532.5 954.5,527.5 955.5,531.5 956.5,531.5 957.5,531.5 957.5,520.5 958.5,520.5 958.5,508.5 958.5,520.5 959.5,520.5 959.5,531.5 960.5,531.5 961.5,532.5 962.5,531.5 963.5,531.5 964.5,531.5 965.5,531.5 965.5,532.5 966.5,531.5 967.5,531.5 968.5,531.5 969.5,531.5 970.5,532.5 971.5,531.5 972.5,531.5 972.5,531.5 973.5,531.5 974.5,524.5 975.5,526.5 976.5,531.5 977.5,532.5 978.5,531.5 979.5,532.5 979.5,531.5 980.5,531.5 981.5,531.5 982.5,532.5 983.5,532.5 984.5,531.5 985.5,532.5 986.5,531.5 987.5,532.5 987.5,532.5 988.5,524.5 989.5,532.5 990.5,519.5 991.5,532.5 992.5,532.5 993.5,531.5 994.5,532.5 994.5,519.5 995.5,531.5 996.5,532.5 997.5,531.5 998.5,531.5 999.5,531.5 1000.5,532.5 1001.5,518.5 1001.5,532.5 1002.5,532.5 1003.5,531.5 1004.5,532.5 1005.5,531.5 1006.5,527.5 1007.5,527.5 1008.5,530.5 1008.5,531.5 1009.5,532.5 1010.5,532.5 1011.5,532.5 1012.5,531.5 1013.5,531.5 1014.5,532.5 1015.5,532.5 1015.5,531.5 1016.5,532.5 1017.5,531.5 1018.5,531.5 1019.5,531.5 1020.5,532.5 1021.5,531.5 1022.5,522.5 1023.5,532.5 1023.5,531.5 1024.5,531.5 1025.5,520.5 1026.5,531.5 1027.5,531.5 1028.5,532.5 1029.5,531.5 1030.5,531.5 1030.5,517.5 1031.5,531.5 1032.5,532.5 1033.5,531.5 1034.5,531.5 1035.5,531.5 1036.5,519.5 1037.5,532.5 1037.5,532.5 1038.5,531.5 1039.5,531.5 1040.5,527.5 1041.5,531.5 1042.5,532.5 1043.5,517.5 1044.5,531.5 1044.5,532.5 1045.5,532.5 1046.5,532.5 1046.5,520.5 1047.5,520.5 1047.5,508.5 1047.5,520.5 1048.5,520.5 1048.5,532.5 1049.5,532.5 1050.5,527.5 1051.5,531.5 1052.5,531.5 1052.5,532.5 1053.5,531.5 1054.5,532.5 1055.5,532.5 1056.5,531.5 1057.5,532.5 1058.5,518.5 1059.5,531.5 1059.5,531.5 1060.5,532.5 1061.5,532.5 1062.5,531.5 1063.5,524.5 1064.5,523.5 1065.5,531.5 1066.5,532.5 1066.5,532.5 1067.5,532.5 1068.5,531.5 1069.5,531.5 1070.5,511.5 1071.5,532.5 1072.5,532.5 1073.5,531.5 1073.5,519.5 1074.5,525.5 1075.5,531.5 1076.5,531.5 1077.5,532.5 1078.5,531.5 1079.5,532.5 1080.5,524.5 1080.5,519.5 1081.5,527.5 1082.5,531.5 1083.5,531.5 1084.5,531.5 1085.5,531.5 1086.5,531.5 1087.5,532.5 1088.5,523.5 1088.5,532.5 1089.5,532.5 1090.5,532.5 1091.5,532.5 1092.5,525.5 1093.5,532.5 1094.5,531.5 1095.5,532.5 1095.5,531.5 1096.5,531.5 1097.5,532.5 1098.5,517.5 1099.5,532.5 1100.5,531.5 1101.5,532.5 1102.5,521.5 1102.5,514.5 1103.5,522.5 1104.5,521.5 1105.5,532.5 1106.5,531.5 1107.5,532.5 1108.5,531.5 1109.5,531.5 1109.5,532.5 1110.5,518.5 1111.5,518.5 1112.5,532.5 1113.5,532.5 1114.5,532.5 1115.5,532.5 1116.5,532.5 1117.5,531.5 1117.5,532.5 1118.5,532.5 1119.5,532.5 1120.5,531.5 1121.5,531.5 1122.5,520.5 1123.5,517.5 1124.5,531.5 1124.5,532.5 1125.5,526.5 1126.5,531.5 1127.5,531.5 1128.5,523.5 1129.5,523.5 1130.5,532.5 1131.5,520.5 1131.5,522.5 1132.5,532.5 1133.5,532.5 1134.5,531.5 1135.5,531.5 1136.5,531.5 1137.5,531.5 1138.5,532.5 1138.5,508.5 1139.5,531.5 1140.5,531.5 1141.5,532.5 1142.5,532.5 1143.5,531.5 1144.5,532.5 1145.5,531.5 1146.5,525.5 1146.5,531.5 1147.5,531.5 1148.5,531.5 1149.5,531.5 1150.5,531.5 1151.5,531.5 1152.5,532.5 1153.5,532.5 1153.5,531.5 1154.5,532.5 1155.5,532.5 1156.5,519.5 1157.5,532.5 1158.5,518.5 1159.5,532.5 1160.5,532.5 1160.5,531.5 1161.5,532.5 1162.5,531.5 1163.5,532.5 1164.5,531.5 1165.5,521.5 1166.5,531.5 1167.5,532.5 1167.5,532.5 1168.5,531.5 1169.5,531.5 1170.5,521.5 1171.5,532.5 1172.5,532.5 1173.5,532.5 1174.5,532.5 1174.5,519.5 1175.5,531.5 1176.5,523.5 1177.5,529.5 1178.5,524.5 1179.5,531.5 1180.5,531.5 1181.5,525.5 1182.5,526.5 1182.5,532.5 1183.5,531.5 1184.5,531.5 1185.5,531.5 1186.5,532.5 1187.5,532.5 1188.5,531.5 1189.5,532.5 1189.5,532.5 1190.5,532.5 1191.5,531.5 1192.5,524.5 1193.5,520.5 1194.5,532.5 1195.5,531.5 1196.5,532.5 1196.5,532.5 1197.5,532.5 1198.5,531.5 1199.5,531.5 1200.5,526.5 1201.5,531.5 1202.5,532.5 1203.5,531.5 1203.5,516.5 1204.5,520.5 1205.5,528.5 1206.5,531.5 1207.5,531.5 1208.5,532.5 1209.5,532.5 1210.5,532.5 1211.5,523.5 1211.5,521.5 1212.5,518.5 1213.5,532.5 1214.5,531.5 1215.5,531.5 1216.5,513.5 1217.5,532.5 1218.5,532.5 1218.5,531.5 1219.5,532.5 1220.5,531.5 1221.5,532.5 1222.5,526.5 1223.5,532.5 1224.5,532.5 1224.5,520.5 1225.5,520.5 1225.5,506.5 1225.5,520.5 1226.5,520.5 1226.5,532.5 1227.5,525.5 1228.5,531.5 1229.5,520.5 1230.5,531.5 1231.5,532.5 1232.5,531.5 1232.5,518.5 1233.5,531.5 1234.5,531.5 1235.5,531.5 1236.5,531.5 1237.5,531.5 1238.5,531.5 1239.5,532.5 1240.5,531.5 1240.5,509.5 1241.5,531.5 1242.5,532.5 1243.5,532.5 1244.5,520.5 1245.5,531.5 1246.5,525.5 1247.5,532.5 1247.5,532.5 1248.5,531.5 1249.5,532.5 1250.5,532.5 1251.5,531.5 1252.5,532.5 1253.5,531.5 1254.5,532.5 1254.5,531.5 1255.5,531.5 1256.5,531.5 1257.5,532.5 1258.5,531.5 1259.5,524.5 1260.5,531.5 1261.5,511.5 1261.5,532.5 1262.5,532.5 1263.5,531.5 1264.5,532.5 1265.5,531.5 1266.5,531.5 1267.5,531.5 1268.5,524.5 1268.5,532.5 1269.5,531.5 1270.5,511.5 1271.5,532.5 1272.5,531.5 1273.5,531.5 1274.5,531.5 1275.5,531.5 1276.5,532.5 1276.5,518.5 1277.5,531.5 1278.5,532.5 1279.5,531.5 1280.5,524.5 1281.5,518.5 1282.5,531.5 1283.5,532.5 1283.5,531.5 1284.5,532.5 1285.5,531.5 1286.5,524.5 1287.5,531.5 1288.5,532.5 1289.5,532.5 1290.5,532.5 1290.5,531.5 1291.5,531.5 1292.5,523.5 1293.5,532.5 1294.5,532.5 1295.5,510.5 1296.5,527.5 1297.5,531.5 1297.5,531.5 1298.5,531.5 1299.5,531.5 1300.5,531.5 1301.5,531.5 1302.5,531.5 1303.5,532.5 1304.5,532.5 1305.5,517.5 1305.5,532.5 1306.5,527.5 1307.5,532.5 1308.5,531.5 1309.5,519.5 1310.5,523.5 1311.5,531.5 1312.5,532.5 1312.5,532.5 1313.5,532.5 1314.5,532.5 1315.5,523.5 1316.5,532.5 1317.5,532.5 1318.5,531.5 1319.5,532.5 1319.5,531.5 1320.5,532.5 1321.5,531.5 1322.5,531.5 1323.5,531.5 1324.5,532.5 1325.5,531.5 1326.5,531.5 1326.5,532.5 1327.5,531.5 1328.5,532.5 1329.5,531.5 1330.5,531.5 1331.5,531.5 1332.5,532.5 1333.5,524.5 1333.5,531.5 1334.5,512.5 1335.5,532.5 1336.5,532.5 1337.5,532.5 1338.5,532.5 1339.5,531.5 1340.5,525.5 1341.5,529.5 1341.5,531.5 1342.5,532.5 1343.5,532.5 1344.5,532.5 1345.5,531.5 1346.5,531.5 1347.5,528.5 1348.5,531.5 1348.5,532.5 1349.5,524.5 1350.5,532.5 1351.5,523.5 1352.5,531.5 1353.5,528.5 1354.5,531.5 1355.5,532.5 1355.5,532.5 1356.5,532.5 1357.5,532.5 1358.5,531.5 1359.5,531.5 1360.5,531.5 1361.5,532.5 1362.5,532.5 1362.5,532.5 1363.5,532.5 1364.5,532.5 1365.5,531.5 1366.5,533.5 101.5,531.5 102.5,532.5 103.5,532.5 104.5,532.5 105.5,524.5 105.5,532.5 106.5,532.5 107.5,532.5 108.5,531.5 109.5,532.5 110.5,532.5 111.5,531.5 112.5,519.5 112.5,531.5 113.5,532.5 114.5,531.5 115.5,532.5 116.5,532.5 117.5,532.5 118.5,531.5 119.5,531.5 119.5,522.5 120.5,531.5 121.5,532.5 122.5,531.5 123.5,531.5 124.5,531.5 125.5,531.5 126.5,532.5 126.5,531.5 127.5,532.5 128.5,531.5 129.5,531.5 130.5,532.5 131.5,532.5 132.5,531.5 133.5,531.5 134.5,532.5 134.5,532.5 135.5,531.5 136.5,532.5 137.5,531.5 138.5,531.5 139.5,531.5 140.5,531.5 141.5,532.5 141.5,531.5 142.5,521.5 143.5,532.5 144.5,532.5 145.5,531.5 146.5,532.5 147.5,532.5 148.5,521.5 148.5,523.5 149.5,518.5 150.5,532.5 151.5,532.5 152.5,532.5 153.5,532.5 154.5,531.5"/>
<path d="M193.7 534.5 H206.9" stroke="#00c000" shape-rendering="crispEdges"/>
<polyline fill="none" stroke="#0080ff" stroke-width="1" shape-rendering="crispEdges" stroke-linejoin="miter" points="206.5,521.5 207.5,535.5 208.5,534.5 209.5,526.5 210.5,534.5 211.5,534.5 212.5,534.5 213.5,534.5 213.5,534.5 214.5,535.5 215.5,534.5 216.5,535.5 217.5,534.5 218.5,535.5 219.5,516.5 220.5,535.5 220.5,518.5 221.5,534.5 222.5,517.5 223.5,534.5 224.5,526.5 225.5,517.5 226.5,522.5 227.5,516.5 228.5,534.5 228.5,534.5 229.5,535.5 230.5,526.5 231.5,534.5 232.5,535.5 233.5,534.5 234.5,534.5 235.5,534.5 235.5,535.5 236.5,518.5 237.5,535.5 238.5,534.5 239.5,535.5 240.5,534.5 241.5,513.5 242.5,535.5 242.5,517.5 243.5,527.5 244.5,534.5 245.5,535.5 246.5,520.5 247.5,534.5 248.5,527.5 249.5,534.5 249.5,518.5 250.5,534.5 251.5,526.5 252.5,533.5 253.5,524.5 254.5,535.5 255.5,534.5 256.5,535.5 256.5,534.5 257.5,525.5 258.5,525.5 259.5,534.5 260.5,521.5 261.5,534.5 262.5,534.5 263.5,535.5 264.5,534.5 264.5,521.5 265.5,534.5 266.5,525.5 267.5,518.5 268.5,517.5 269.5,527.5 270.5,535.5 271.5,534.5 271.5,523.5 272.5,531.5 273.5,520.5 274.5,534.5 275.5,534.5 276.5,535.5 277.5,534.5 278.5,535.5 278.5,535.5 279.5,534.5 280.5,534.5 281.5,519.5 282.5,527.5 283.5,532.5 284.5,534.5 285.5,535.5 285.5,534.5 286.5,534.5 287.5,535.5 288.5,534.5 289.5,535.5 290.5,527.5 291.5,534.5 292.5,535.5 293.5,535.5 293.5,535.5 294.5,535.5 295.5,534.5 296.5,517.5 297.5,522.5 298.5,535.5 299.5,534.5 300.5,534.5 300.5,534.5 301.5,535.5 302.5,526.5 303.5,524.5 304.5,535.5 305.5,535.5 306.5,534.5 307.5,535.5 307.5,534.5 308.5,534.5 309.5,535.5 310.5,535.5 311.5,534.5 312.5,534.5 313.5,534.5 314.5,511.5 314.5,534.5 315.5,518.5 316.5,534.5 317.5,534.5 318.5,534.5 319.5,535.5 320.5,517.5 321.5,534.5 321.5,535.5 322.5,534.5 323.5,525.5 324.5,534.5 325.5,521.5 326.5,521.5 327.5,534.5 328.5,517.5 329.5,535.5 329.5,534.5 330.5,534.5 331.5,534.5 332.5,518.5 333.5,527.5 334.5,534.5 335.5,535.5 336.5,535.5 336.5,518.5 337.5,534.5 338.5,534.5 339.5,534.5 340.5,534.5 341.5,535.5 342.5,534.5 343.5,515.5 343.5,516.5 344.5,534.5 345.5,534.5 346.5,534.5 347.5,521.5 348.5,521.5 349.5,516.5 350.5,520.5 350.5,535.5 351.5,534.5 352.5,534.5 353.5,535.5 354.5,521.5 355.5,519.5 356.5,534.5 357.5,534.5 358.5,535.5 358.5,534.5 359.5,535.5 360.5,534.5 361.5,534.5 362.5,526.5 363.5,535.5 364.5,525.5 365.5,535.5 365.5,535.5 366.5,534.5 367.5,534.5 368.5,523.5 369.5,525.5 370.5,534.5 371.5,525.5 372.5,534.5 372.5,534.5 373.5,534.5 374.5,515.5 375.5,534.5 376.5,521.5 377.5,535.5 378.5,521.5 379.5,520.5 379.5,522.5 380.5,525.5 381.5,515.5 382.5,525.5 383.5,534.5 384.5,534.5 385.5,535.5 386.5,534.5 387.5,516.5 387.5,534.5 388.5,519.5 389.5,528.5 390.5,534.5 391.5,534.5 392.5,535.5 393.5,534.5 394.5,535.5 394.5,523.5 395.5,519.5 396.5,534.5 397.5,519.5 398.5,534.5 399.5,516.5 400.5,534.5 401.5,534.5 401.5,534.5 402.5,534.5 403.5,534.5 404.5,528.5 405.5,528.5 406.5,518.5 407.5,534.5 408.5,534.5 408.5,534.5 409.5,534.5 410.5,535.5 411.5,534.5 412.5,534.5 413.5,521.5 414.5,518.5 415.5,534.5 415.5,534.5 416.5,534.5 417.5,535.5 418.5,534.5 419.5,535.5 420.5,534.5 421.5,534.5 422.5,535.5 423.5,535.5 423.5,527.5 424.5,535.5 425.5,521.5 426.5,534.5 427.5,535.5 428.5,535.5 429.5,521.5 430.5,534.5 430.5,525.5 431.5,523.5 432.5,534.5 433.5,534.5 434.5,535.5 435.5,535.5 435.5,518.5 436.5,518.5 436.5,497.5 436.5,518.5 437.5,518.5 437.5,535.5 438.5,534.5 439.5,534.5 439.5,520.5 440.5,520.5 440.5,500.5 440.5,520.5 441.5,520.5 441.5,534.5 442.5,526.5 443.5,535.5 444.5,534.5 444.5,534.5 445.5,535.5 446.5,534.5 447.5,524.5 448.5,535.5 449.5,534.5 450.5,517.5 451.5,519.5 452.5,534.5 452.5,535.5 453.5,535.5 454.5,534.5 455.5,534.5 456.5,534.5 457.5,535.5 458.5,535.5 459.5,525.5 459.5,534.5 460.5,535.5 461.5,535.5 462.5,521.5 463.5,516.5 464.5,535.5 465.5,535.5 466.5,534.5 466.5,535.5 467.5,535.5 468.5,534.5 469.5,534.5 470.5,534.5 471.5,534.5 472.5,534.5 473.5,534.5 473.5,517.5 474.5,534.5 475.5,534.5 476.5,535.5 477.5,522.5 478.5,524.5 479.5,534.5 480.5,534.5 481.5,534.5 481.5,534.5 482.5,524.5 483.5,516.5 484.5,535.5 485.5,517.5 486.5,534.5 487.5,535.5 488.5,534.5 488.5,515.5 489.5,517.5 490.5,534.5 491.5,534.5 492.5,534.5 493.5,516.5 494.5,534.5 495.5,534.5 495.5,535.5 496.5,534.5 497.5,520.5 498.5,527.5 499.5,535.5 500.5,534.5 501.5,534.5 502.5,525.5 502.5,534.5 503.5,534.5 503.5,520.5 504.5,520.5 504.5,498.5 504.5,520.5 505.5,520.5 505.5,534.5 506.5,514.5 507.5,534.5 508.5,535.5 509.5,527.5 509.5,518.5 510.5,517.5 511.5,535.5 512.5,534.5 513.5,520.5 514.5,534.5 515.5,517.5 516.5,519.5 517.5,534.5 517.5,534.5 518.5,521.5 519.5,535.5 520.5,521.5 521.5,534.5 522.5,534.5 523.5,534.5 524.5,525.5 524.5,534.5 525.5,534.5 526.5,534.5 527.5,520.5 528.5,534.5 529.5,518.5 530.5,534.5 531.5,534.5 531.5,514.5 532.5,522.5 533.5,534.5 534.5,534.5 535.5,535.5 536.5,534.5 537.5,519.5 538.5,534.5 538.5,522.5 539.5,523.5 540.5,534.5 541.5,527.5 542.5,526.5 543.5,516.5 544.5,535.5 545.5,535.5 546.5,534.5 546.5,527.5 547.5,534.5 548.5,517.5 549.5,526.5 550.5,526.5 550.5,520.5 551.5,520.5 551.5,503.5 551.5,520.5 552.5,520.5 552.5,526.5 553.5,534.5 553.5,534.5 554.5,534.5 555.5,521.5 556.5,534.5 557.5,534.5 558.5,534.5 559.5,521.5 560.5,534.5 560.5,534.5 561.5,534.5 562.5,535.5 563.5,534.5 564.5,534.5 565.5,534.5 566.5,535.5 567.5,534.5 567.5,519.5 568.5,522.5 569.5,524.5 570.5,535.5 571.5,535.5 572.5,534.5 573.5,535.5 574.5,517.5 574.5,526.5 575.5,534.5 576.5,534.5 577.5,534.5 578.5,535.5 579.5,518.5 580.5,535.5 581.5,519.5 582.5,535.5 582.5,526.5 583.5,534.5 584.5,535.5 585.5,534.5 586.5,534.5 587.5,535.5 588.5,534.5 589.5,522.5 589.5,534.5 590.5,534.5 591.5,534.5 592.5,535.5 593.5,526.5 594.5,517.5 595.5,534.5 596.5,534.5 596.5,534.5 597.5,535.5 598.5,534.5 599.5,521.5 600.5,521.5 600.5,508.5 601.5,508.5 601.5,484.5 601.5,508.5 602.5,508.5 602.5,521.5 603.5,534.5 603.5,524.5 604.5,534.5 605.5,534.5 606.5,534.5 607.5,521.5 608.5,520.5 609.5,534.5 610.5,534.5 611.5,534.5 611.5,534.5 612.5,535.5 613.5,534.5 614.5,534.5 615.5,534.5 615.5,506.5 616.5,506.5 616.5,482.5 616.5,506.5 617.5,506.5 617.5,534.5 618.5,522.5 618.5,520.5 619.5,535.5 620.5,534.5 621.5,535.5 622.5,534.5 623.5,534.5 624.5,534.5 625.5,534.5 625.5,534.5 626.5,528.5 627.5,534.5 628.5,534.5 629.5,535.5 630.5,514.5 631.5,534.5 632.5,535.5 632.5,534.5 633.5,524.5 634.5,535.5 635.5,534.5 636.5,535.5 637.5,525.5 638.5,524.5 639.5,524.5 639.5,512.5 640.5,512.5 640.5,466.5 640.5,512.5 641.5,512.5 641.5,524.5 642.5,534.5 643.5,534.5 644.5,535.5 645.5,535.5 646.5,534.5 647.5,534.5 647.5,534.5 648.5,534.5 649.5,516.5 650.5,534.5 651.5,534.5 652.5,534.5 653.5,518.5 654.5,535.5 654.5,535.5 655.5,534.5 656.5,534.5 657.5,534.5 658.5,534.5 659.5,519.5 660.5,535.5 661.5,534.5 661.5,534.5 662.5,534.5 663.5,535.5 664.5,523.5 665.5,527.5 666.5,534.5 667.5,513.5 668.5,515.5 668.5,521.5 669.5,534.5 670.5,534.5 671.5,534.5 672.5,535.5 673.5,534.5 674.5,534.5 675.5,534.5 676.5,534.5 676.5,535.5 677.5,534.5 678.5,534.5 679.5,534.5 680.5,534.5 681.5,534.5 682.5,534.5 683.5,523.5 683.5,535.5 684.5,534.5 685.5,535.5 686.5,515.5 687.5,525.5 688.5,522.5 689.5,534.5 690.5,534.5 690.5,535.5 691.5,534.5 692.5,534.5 693.5,512.5 694.5,534.5 695.5,519.5 696.5,516.5 697.5,535.5 697.5,534.5 698.5,526.5 699.5,535.5 700.5,526.5 701.5,535.5 702.5,534.5 703.5,534.5 704.5,520.5 705.5,526.5 705.5,529.5 706.5,535.5 707.5,534.5 708.5,535.5 709.5,534.5 710.5,534.5 711.5,534.5 712.5,515.5 712.5,534.5 713.5,534.5 714.5,534.5 715.5,534.5 716.5,534.5 717.5,534.5 718.5,534.5 719.5,534.5 719.5,535.5 720.5,515.5 721.5,523.5 722.5,534.5 723.5,535.5 724.5,534.5 725.5,534.5 726.5,534.5 726.5,534.5 727.5,534.5 728.5,534.5 729.5,534.5 730.5,534.5 731.5,534.5 732.5,534.5 733.5,521.5 734.5,535.5 734.5,534.5 735.5,534.5 736.5,517.5 737.5,522.5 738.5,534.5 739.5,534.5 740.5,534.5 741.5,535.5 741.5,534.5 742.5,534.5 743.5,535.5 744.5,534.5 745.5,534.5 746.5,528.5 747.5,534.5 748.5,534.5 748.5,534.5 749.5,534.5 750.5,534.5 751.5,534.5 752.5,534.5 753.5,535.5 754.5,534.5 755.5,518.5 755.5,534.5 756.5,535.5 757.5,534.5 758.5,528.5 759.5,521.5 760.5,535.5 761.5,534.5 762.5,517.5 762.5,534.5 763.5,516.5 764.5,534.5 765.5,520.5 766.5,534.5 767.5,534.5 768.5,526.5 769.5,534.5 770.5,535.5 770.5,534.5 771.5,527.5 772.5,527.5 773.5,535.5 774.5,535.5 775.5,523.5 776.5,534.5 777.5,534.5 777.5,534.5 778.5,534.5 779.5,535.5 780.5,534.5 781.5,534.5 782.5,523.5 783.5,535.5 784.5,534.5 784.5,535.5 785.5,535.5 786.5,525.5 787.5,534.5 788.5,534.5 789.5,522.5 790.5,535.5 791.5,534.5 791.5,519.5 792.5,534.5 793.5,511.5 794.5,534.5 795.5,535.5 796.5,527.5 797.5,534.5 798.5,534.5 799.5,534.5 799.5,534.5 800.5,534.5 801.5,521.5 802.5,518.5 803.5,535.5 804.5,534.5 805.5,534.5 806.5,535.5 806.5,535.5 807.5,526.5 808.5,534.5 809.5,535.5 810.5,527.5 811.5,522.5 812.5,534.5 813.5,535.5 813.5,535.5 814.5,534.5 815.5,519.5 816.5,534.5 817.5,534.5 818.5,527.5 819.5,535.5 820.5,534.5 820.5,534.5 821.5,535.5 822.5,535.5 823.5,534.5 824.5,516.5 825.5,516.5 825.5,432.5 826.5,432.5 826.5,345.5 826.5,432.5 827.5,432.5 827.5,516.5 828.5,534.5 829.5,534.5 830.5,535.5 831.5,527.5 832.5,517.5 833.5,534.5 834.5,535.5 835.5,534.5 835.5,534.5 836.5,535.5 837.5,534.5 838.5,534.5 839.5,534.5 840.5,535.5 841.5,526.5 842.5,534.5 842.5,534.5 843.5,534.5 844.5,534.5 845.5,534.5 846.5,534.5 847.5,525.5 848.5,535.5 849.5,534.5 849.5,534.5 850.5,534.5 851.5,534.5 852.5,515.5 853.5,518.5 854.5,535.5 855.5,534.5 856.5,534.5 856.5,534.5 857.5,534.5 857.5,522.5 858.5,522.5 858.5,507.5 858.5,522.5 859.5,522.5 859.5,534.5 860.5,520.5 861.5,535.5 862.5,522.5 863.5,524.5 864.5,535.5 864.5,526.5 865.5,522.5 866.5,535.5 867.5,535.5 868.5,535.5 869.5,534.5 870.5,534.5 871.5,534.5 871.5,519.5 872.5,527.5 873.5,534.5 874.5,535.5 875.5,534.5 876.5,534.5 877.5,535.5 878.5,523.5 878.5,519.5 879.5,525.5 880.5,534.5 881.5,518.5 882.5,534.5 883.5,535.5 884.5,516.5 885.5,534.5 885.5,534.5 886.5,534.5 887.5,534.5 888.5,534.5 889.5,535.5 890.5,513.5 891.5,534.5 892.5,534.5 893.5,535.5 893.5,517.5 894.5,534.5 895.5,534.5 896.5,534.5 897.5,534.5 898.5,524.5 899.5,517.5 900.5,534.5 900.5,534.5 901.5,534.5 902.5,528.5 903.5,535.5 904.5,522.5 905.5,524.5 906.5,523.5 907.5,523.5 907.5,535.5 908.5,523.5 909.5,535.5 910.5,517.5 911.5,521.5 912.5,534.5 913.5,525.5 914.5,534.5 914.5,534.5 915.5,534.5 916.5,535.5 917.5,534.5 918.5,534.5 919.5,535.5 920.5,534.5 921.5,524.5 921.5,534.5 922.5,535.5 923.5,535.5 924.5,534.5 925.5,518.5 926.5,534.5 927.5,523.5 928.5,535.5 929.5,523.5 929.5,519.5 930.5,530.5 931.5,535.5 932.5,534.5 933.5,535.5 934.5,523.5 935.5,534.5 936.5,535.5 936.5,534.5 937.5,534.5 938.5,535.5 939.5,523.5 940.5,535.5 941.5,534.5 942.5,534.5 943.5,534.5 943.5,534.5 944.5,534.5 945.5,534.5 946.5,535.5 947.5,535.5 948.5,534.5 949.5,534.5 950.5,534.5 950.5,534.5 951.5,534.5 952.5,535.5 953.5,534.5 954.5,535.5 955.5,534.5 956.5,534.5 957.5,534.5 958.5,534.5 958.5,534.5 959.5,534.5 960.5,517.5 961.5,534.5 962.5,535.5 963.5,535.5 964.5,534.5 965.5,534.5 965.5,517.5 966.5,511.5 967.5,535.5 968.5,520.5 969.5,524.5 970.5,527.5 971.5,535.5 972.5,520.5 972.5,534.5 973.5,534.5 974.5,534.5 975.5,519.5 976.5,523.5 977.5,535.5 978.5,534.5 979.5,535.5 979.5,535.5 980.5,534.5 981.5,535.5 982.5,534.5 983.5,535.5 984.5,534.5 985.5,534.5 986.5,534.5 987.5,534.5 987.5,535.5 988.5,534.5 989.5,520.5 990.5,519.5 991.5,527.5 992.5,535.5 993.5,534.5 994.5,534.5 994.5,527.5 995.5,534.5 996.5,534.5 997.5,516.5 998.5,534.5 999.5,535.5 1000.5,534.5 1001.5,516.5 1001.5,535.5 1002.5,523.5 1003.5,535.5 1004.5,528.5 1005.5,534.5 1006.5,534.5 1007.5,534.5 1007.5,524.5 1008.5,524.5 1008.5,510.5 1008.5,524.5 1009.5,524.5 1009.5,534.5 1010.5,534.5 1011.5,535.5 1012.5,535.5 1013.5,534.5 1014.5,522.5 1015.5,534.5 1015.5,534.5 1016.5,534.5 1017.5,534.5 1018.5,534.5 1019.5,523.5 1020.5,535.5 1021.5,534.5 1022.5,511.5 1023.5,534.5 1023.5,534.5 1024.5,534.5 1025.5,534.5 1026.5,534.5 1027.5,534.5 1028.5,534.5 1029.5,534.5 1030.5,534.5 1030.5,521.5 1031.5,535.5 1032.5,520.5 1033.5,535.5 1034.5,535.5 1035.5,534.5 1036.5,525.5 1037.5,534.5 1037.5,534.5 1038.5,535.5 1039.5,519.5 1040.5,534.5 1041.5,519.5 1042.5,534.5 1043.5,516.5 1044.5,534.5 1044.5,525.5 1045.5,513.5 1046.5,534.5 1047.5,528.5 1048.5,516.5 1049.5,523.5 1050.5,534.5 1051.5,526.5 1052.5,534.5 1052.5,535.5 1053.5,518.5 1054.5,534.5 1055.5,526.5 1056.5,534.5 1057.5,518.5 1058.5,518.5 1058.5,451.5 1059.5,451.5 1059.5,376.5 1059.5,518.5 1061.5,525.5 1062.5,535.5 1063.5,522.5 1064.5,528.5 1065.5,525.5 1066.5,535.5 1066.5,521.5 1067.5,535.5 1068.5,519.5 1069.5,534.5 1070.5,534.5 1071.5,534.5 1072.5,526.5 1073.5,535.5 1073.5,534.5 1074.5,534.5 1075.5,535.5 1076.5,534.5 1077.5,534.5 1078.5,522.5 1079.5,534.5 1080.5,534.5 1080.5,535.5 1081.5,534.5 1082.5,519.5 1083.5,534.5 1084.5,534.5 1085.5,535.5 1086.5,520.5 1087.5,534.5 1088.5,535.5 1088.5,534.5 1089.5,534.5 1090.5,535.5 1091.5,516.5 1092.5,519.5 1093.5,520.5 1094.5,533.5 1095.5,534.5 1095.5,522.5 1096.5,523.5 1097.5,535.5 1098.5,534.5 1099.5,534.5 1100.5,518.5 1101.5,535.5 1102.5,534.5 1102.5,534.5 1103.5,517.5 1104.5,534.5 1105.5,526.5 1106.5,534.5 1107.5,534.5 1108.5,534.5 1109.5,534.5 1109.5,526.5 1110.5,535.5 1111.5,535.5 1112.5,528.5 1113.5,531.5 1114.5,534.5 1115.5,535.5 1116.5,534.5 1117.5,534.5 1117.5,534.5 1118.5,534.5 1119.5,522.5 1120.5,529.5 1121.5,521.5 1122.5,534.5 1123.5,534.5 1124.5,534.5 1124.5,534.5 1125.5,534.5 1126.5,534.5 1127.5,527.5 1128.5,524.5 1129.5,534.5 1130.5,534.5 1131.5,534.5 1131.5,534.5 1132.5,525.5 1133.5,523.5 1134.5,535.5 1135.5,534.5 1136.5,534.5 1137.5,535.5 1138.5,535.5 1138.5,527.5 1139.5,516.5 1140.5,534.5 1141.5,534.5 1142.5,514.5 1143.5,528.5 1144.5,534.5 1145.5,527.5 1146.5,521.5 1146.5,523.5 1147.5,534.5 1148.5,534.5 1149.5,534.5 1150.5,534.5 1151.5,534.5 1152.5,534.5 1153.5,534.5 1153.5,534.5 1154.5,534.5 1155.5,534.5 1156.5,535.5 1157.5,534.5 1158.5,535.5 1159.5,519.5 1160.5,527.5 1160.5,534.5 1161.5,527.5 1162.5,534.5 1163.5,520.5 1164.5,524.5 1165.5,534.5 1166.5,525.5 1167.5,524.5 1167.5,516.5 1168.5,521.5 1169.5,534.5 1170.5,524.5 1171.5,527.5 1172.5,522.5 1173.5,535.5 1174.5,534.5 1174.5,534.5 1175.5,534.5 1176.5,534.5 1177.5,534.5 1178.5,534.5 1179.5,534.5 1180.5,534.5 1181.5,523.5 1182.5,525.5 1182.5,534.5 1183.5,534.5 1184.5,534.5 1185.5,525.5 1186.5,534.5 1187.5,535.5 1188.5,534.5 1189.5,522.5 1189.5,522.5 1190.5,518.5 1191.5,534.5 1192.5,518.5 1193.5,534.5 1194.5,534.5 1195.5,516.5 1196.5,523.5 1196.5,535.5 1197.5,518.5 1198.5,535.5 1199.5,534.5 1200.5,534.5 1201.5,534.5 1202.5,534.5 1203.5,524.5 1203.5,534.5 1204.5,534.5 1205.5,534.5 1206.5,534.5 1207.5,527.5 1208.5,530.5 1209.5,518.5 1210.5,534.5 1211.5,534.5 1211.5,534.5 1212.5,534.5 1213.5,534.5 1214.5,525.5 1215.5,534.5 1216.5,518.5 1217.5,518.5 1217.5,508.5 1218.5,508.5 1218.5,497.5 1218.5,508.5 1219.5,508.5 1219.5,518.5 1220.5,534.5 1221.5,534.5 1222.5,522.5 1223.5,535.5 1224.5,534.5 1225.5,534.5 1225.5,534.5 1226.5,520.5 1227.5,535.5 1228.5,534.5 1229.5,534.5 1230.5,534.5 1231.5,534.5 1232.5,522.5 1232.5,535.5 1233.5,534.5 1234.5,534.5 1235.5,528.5 1236.5,534.5 1237.5,518.5 1238.5,535.5 1239.5,535.5 1240.5,534.5 1240.5,534.5 1241.5,518.5 1242.5,519.5 1243.5,535.5 1244.5,534.5 1245.5,519.5 1246.5,534.5 1247.5,525.5 1247.5,534.5 1248.5,516.5 1249.5,534.5 1250.5,523.5 1251.5,534.5 1252.5,534.5 1253.5,534.5 1254.5,535.5 1254.5,535.5 1255.5,520.5 1256.5,518.5 1257.5,535.5 1258.5,522.5 1259.5,534.5 1260.5,523.5 1261.5,517.5 1261.5,527.5 1262.5,534.5 1263.5,534.5 1264.5,511.5 1265.5,535.5 1266.5,520.5 1267.5,534.5 1268.5,534.5 1268.5,535.5 1269.5,518.5 1270.5,519.5 1271.5,532.5 1272.5,523.5 1273.5,535.5 1274.5,534.5 1275.5,534.5 1276.5,535.5 1276.5,534.5 1277.5,534.5 1278.5,535.5 1279.5,518.5 1280.5,526.5 1281.5,534.5 1282.5,534.5 1283.5,535.5 1283.5,535.5 1284.5,534.5 1285.5,516.5 1286.5,534.5 1287.5,535.5 1288.5,535.5 1289.5,535.5 1290.5,526.5 1290.5,518.5 1291.5,535.5 1292.5,535.5 1293.5,522.5 1294.5,521.5 1295.5,522.5 1296.5,520.5 1297.5,521.5 1297.5,534.5 1298.5,516.5 1299.5,516.5 1300.5,522.5 1301.5,534.5 1302.5,518.5 1303.5,534.5 1304.5,523.5 1305.5,526.5 1305.5,523.5 1306.5,534.5 1307.5,522.5 1308.5,535.5 1309.5,520.5 1310.5,534.5 1311.5,535.5 1312.5,534.5 1312.5,535.5 1313.5,521.5 1314.5,520.5 1315.5,521.5 1316.5,516.5 1317.5,534.5 1318.5,534.5 1319.5,534.5 1319.5,535.5 1320.5,535.5 1321.5,535.5 1322.5,534.5 1323.5,522.5 1324.5,534.5 1325.5,534.5 1326.5,534.5 1326.5,524.5 1327.5,534.5 1328.5,519.5 1329.5,523.5 1330.5,524.5 1331.5,534.5 1332.5,534.5 1333.5,534.5 1333.5,519.5 1334.5,522.5 1335.5,525.5 1336.5,517.5 1337.5,535.5 1338.5,523.5 1339.5,515.5 1340.5,534.5 1341.5,534.5 1341.5,534.5 1342.5,534.5 1343.5,516.5 1344.5,534.5 1345.5,534.5 1346.5,517.5 1347.5,519.5 1348.5,534.5 1348.5,534.5 1349.5,535.5 1350.5,534.5 1351.5,535.5 1352.5,535.5 1353.5,535.5 1354.5,535.5 1355.5,520.5 1355.5,519.5 1356.5,534.5 1357.5,535.5 1358.5,534.5 1359.5,518.5 1360.5,535.5 1361.5,520.5 1362.5,526.5 1362.5,535.5 1363.5,534.5 1364.5,534.5 1365.5,535.5 1366.5,525.5 101.5,534.5 102.5,534.5 103.5,534.5 104.5,534.5 105.5,534.5 105.5,527.5 106.5,519.5 107.5,519.5 108.5,521.5 109.5,517.5 110.5,524.5 111.5,535.5 112.5,534.5 112.5,534.5 113.5,534.5 114.5,515.5 115.5,525.5 116.5,514.5 117.5,528.5 118.5,535.5 119.5,534.5 119.5,535.5 120.5,534.5 121.5,516.5 122.5,535.5 123.5,535.5 124.5,524.5 125.5,534.5 126.5,528.5 126.5,529.5 127.5,535.5 128.5,535.5 129.5,534.5 130.5,534.5 131.5,535.5 132.5,523.5 133.5,526.5 134.5,534.5 134.5,534.5 135.5,535.5 136.5,526.5 137.5,534.5 138.5,520.5 139.5,521.5 140.5,535.5 141.5,534.5 141.5,534.5 142.5,534.5 143.5,534.5 144.5,534.5 145.5,534.5 146.5,534.5 147.5,534.5 148.5,535.5 148.5,518.5 149.5,534.5 150.5,534.5 151.5,534.5 152.5,519.5 153.5,534.5 154.5,535.5"/>
<path d="M159.5 533.5 H716.4 V532.5 H1366.5" stroke="#0080ff" fill="none" shape-rendering="crispEdges"/>
<rect x="588.0" y="481.0" width="13" height="13" fill="#00eeee" shape-rendering="crispEdges"/>
<rect x="648.0" y="481.0" width="13" height="13" fill="#00eeee" shape-rendering="crispEdges"/>
<rect x="655.0" y="481.0" width="13" height="13" fill="#00eeee" shape-rendering="crispEdges"/>
<rect x="1187.0" y="481.0" width="13" height="13" fill="#00eeee" shape-rendering="crispEdges"/>
<g stroke="#c04000" fill="none" shape-rendering="crispEdges"><circle cx="105.5" cy="425.5" r="5.5" stroke-width="1.15"/><path d="M100.0 425.5 h-1 M111.0 425.5 h1 M105.5 420.0 v-1 M105.5 431.0 v1"/></g>
<g stroke="#c04000" fill="none" shape-rendering="crispEdges"><circle cx="151.5" cy="450.5" r="5.5" stroke-width="1.15"/><path d="M146.0 450.5 h-1 M157.0 450.5 h1 M151.5 445.0 v-1 M151.5 456.0 v1"/></g>
<g stroke="#c04000" fill="none" shape-rendering="crispEdges"><circle cx="208.5" cy="444.5" r="5.5" stroke-width="1.15"/><path d="M203.0 444.5 h-1 M214.0 444.5 h1 M208.5 439.0 v-1 M208.5 450.0 v1"/></g>
<g stroke="#c04000" fill="none" shape-rendering="crispEdges"><circle cx="261.5" cy="445.5" r="5.5" stroke-width="1.15"/><path d="M256.0 445.5 h-1 M267.0 445.5 h1 M261.5 440.0 v-1 M261.5 451.0 v1"/></g>
<g stroke="#c04000" fill="none" shape-rendering="crispEdges"><circle cx="307.5" cy="448.5" r="5.5" stroke-width="1.15"/><path d="M302.0 448.5 h-1 M313.0 448.5 h1 M307.5 443.0 v-1 M307.5 454.0 v1"/></g>
<g stroke="#c04000" fill="none" shape-rendering="crispEdges"><circle cx="360.5" cy="452.5" r="5.5" stroke-width="1.15"/><path d="M355.0 452.5 h-1 M366.0 452.5 h1 M360.5 447.0 v-1 M360.5 458.0 v1"/></g>
<g stroke="#c04000" fill="none" shape-rendering="crispEdges"><circle cx="366.5" cy="446.5" r="5.5" stroke-width="1.15"/><path d="M361.0 446.5 h-1 M372.0 446.5 h1 M366.5 441.0 v-1 M366.5 452.0 v1"/></g>
<g stroke="#c04000" fill="none" shape-rendering="crispEdges"><circle cx="419.5" cy="440.5" r="5.5" stroke-width="1.15"/><path d="M414.0 440.5 h-1 M425.0 440.5 h1 M419.5 435.0 v-1 M419.5 446.0 v1"/></g>
<g stroke="#c04000" fill="none" shape-rendering="crispEdges"><circle cx="413.5" cy="484.5" r="5.5" stroke-width="1.15"/><path d="M408.0 484.5 h-1 M419.0 484.5 h1 M413.5 479.0 v-1 M413.5 490.0 v1"/></g>
<g stroke="#c04000" fill="none" shape-rendering="crispEdges"><circle cx="255.5" cy="497.5" r="5.5" stroke-width="1.15"/><path d="M250.0 497.5 h-1 M261.0 497.5 h1 M255.5 492.0 v-1 M255.5 503.0 v1"/></g>
<g stroke="#c04000" fill="none" shape-rendering="crispEdges"><circle cx="314.5" cy="502.5" r="5.5" stroke-width="1.15"/><path d="M309.0 502.5 h-1 M320.0 502.5 h1 M314.5 497.0 v-1 M314.5 508.0 v1"/></g>
<g stroke="#c04000" fill="none" shape-rendering="crispEdges"><circle cx="466.5" cy="436.5" r="5.5" stroke-width="1.15"/><path d="M461.0 436.5 h-1 M472.0 436.5 h1 M466.5 431.0 v-1 M466.5 442.0 v1"/></g>
<g stroke="#c04000" fill="none" shape-rendering="crispEdges"><circle cx="472.5" cy="443.5" r="5.5" stroke-width="1.15"/><path d="M467.0 443.5 h-1 M478.0 443.5 h1 M472.5 438.0 v-1 M472.5 449.0 v1"/></g>
<g stroke="#c04000" fill="none" shape-rendering="crispEdges"><circle cx="518.5" cy="440.5" r="5.5" stroke-width="1.15"/><path d="M513.0 440.5 h-1 M524.0 440.5 h1 M518.5 435.0 v-1 M518.5 446.0 v1"/></g>
<g stroke="#c04000" fill="none" shape-rendering="crispEdges"><circle cx="524.5" cy="445.5" r="5.5" stroke-width="1.15"/><path d="M519.0 445.5 h-1 M530.0 445.5 h1 M524.5 440.0 v-1 M524.5 451.0 v1"/></g>
<g stroke="#c04000" fill="none" shape-rendering="crispEdges"><circle cx="577.5" cy="399.5" r="5.5" stroke-width="1.15"/><path d="M572.0 399.5 h-1 M583.0 399.5 h1 M577.5 394.0 v-1 M577.5 405.0 v1"/></g>
<g stroke="#c04000" fill="none" shape-rendering="crispEdges"><circle cx="571.5" cy="436.5" r="5.5" stroke-width="1.15"/><path d="M566.0 436.5 h-1 M577.0 436.5 h1 M571.5 431.0 v-1 M571.5 442.0 v1"/></g>
<g stroke="#c04000" fill="none" shape-rendering="crispEdges"><circle cx="624.5" cy="434.5" r="5.5" stroke-width="1.15"/><path d="M619.0 434.5 h-1 M630.0 434.5 h1 M624.5 429.0 v-1 M624.5 440.0 v1"/></g>
<g stroke="#c04000" fill="none" shape-rendering="crispEdges"><circle cx="630.5" cy="443.5" r="5.5" stroke-width="1.15"/><path d="M625.0 443.5 h-1 M636.0 443.5 h1 M630.5 438.0 v-1 M630.5 449.0 v1"/></g>
<g stroke="#c04000" fill="none" shape-rendering="crispEdges"><circle cx="676.5" cy="423.5" r="5.5" stroke-width="1.15"/><path d="M671.0 423.5 h-1 M682.0 423.5 h1 M676.5 418.0 v-1 M676.5 429.0 v1"/></g>
<g stroke="#c04000" fill="none" shape-rendering="crispEdges"><circle cx="683.5" cy="416.5" r="5.5" stroke-width="1.15"/><path d="M678.0 416.5 h-1 M689.0 416.5 h1 M683.5 411.0 v-1 M683.5 422.0 v1"/></g>
<g stroke="#c04000" fill="none" shape-rendering="crispEdges"><circle cx="729.5" cy="399.5" r="5.5" stroke-width="1.15"/><path d="M724.0 399.5 h-1 M735.0 399.5 h1 M729.5 394.0 v-1 M729.5 405.0 v1"/></g>
<g stroke="#c04000" fill="none" shape-rendering="crispEdges"><circle cx="735.5" cy="426.5" r="5.5" stroke-width="1.15"/><path d="M730.0 426.5 h-1 M741.0 426.5 h1 M735.5 421.0 v-1 M735.5 432.0 v1"/></g>
<g stroke="#c04000" fill="none" shape-rendering="crispEdges"><circle cx="788.5" cy="428.5" r="5.5" stroke-width="1.15"/><path d="M783.0 428.5 h-1 M794.0 428.5 h1 M788.5 423.0 v-1 M788.5 434.0 v1"/></g>
<g stroke="#c04000" fill="none" shape-rendering="crispEdges"><circle cx="782.5" cy="451.5" r="5.5" stroke-width="1.15"/><path d="M777.0 451.5 h-1 M788.0 451.5 h1 M782.5 446.0 v-1 M782.5 457.0 v1"/></g>
<g stroke="#c04000" fill="none" shape-rendering="crispEdges"><circle cx="841.5" cy="415.5" r="5.5" stroke-width="1.15"/><path d="M836.0 415.5 h-1 M847.0 415.5 h1 M841.5 410.0 v-1 M841.5 421.0 v1"/></g>
<g stroke="#c04000" fill="none" shape-rendering="crispEdges"><circle cx="835.5" cy="472.5" r="5.5" stroke-width="1.15"/><path d="M830.0 472.5 h-1 M841.0 472.5 h1 M835.5 467.0 v-1 M835.5 478.0 v1"/></g>
<g stroke="#c04000" fill="none" shape-rendering="crispEdges"><circle cx="887.5" cy="421.5" r="5.5" stroke-width="1.15"/><path d="M882.0 421.5 h-1 M893.0 421.5 h1 M887.5 416.0 v-1 M887.5 427.0 v1"/></g>
<g stroke="#c04000" fill="none" shape-rendering="crispEdges"><circle cx="893.5" cy="432.5" r="5.5" stroke-width="1.15"/><path d="M888.0 432.5 h-1 M899.0 432.5 h1 M893.5 427.0 v-1 M893.5 438.0 v1"/></g>
<g stroke="#c04000" fill="none" shape-rendering="crispEdges"><circle cx="946.5" cy="413.5" r="5.5" stroke-width="1.15"/><path d="M941.0 413.5 h-1 M952.0 413.5 h1 M946.5 408.0 v-1 M946.5 419.0 v1"/></g>
<g stroke="#c04000" fill="none" shape-rendering="crispEdges"><circle cx="940.5" cy="433.5" r="5.5" stroke-width="1.15"/><path d="M935.0 433.5 h-1 M946.0 433.5 h1 M940.5 428.0 v-1 M940.5 439.0 v1"/></g>
<g stroke="#c04000" fill="none" shape-rendering="crispEdges"><circle cx="999.5" cy="403.5" r="5.5" stroke-width="1.15"/><path d="M994.0 403.5 h-1 M1005.0 403.5 h1 M999.5 398.0 v-1 M999.5 409.0 v1"/></g>
<g stroke="#c04000" fill="none" shape-rendering="crispEdges"><circle cx="993.5" cy="418.5" r="5.5" stroke-width="1.15"/><path d="M988.0 418.5 h-1 M999.0 418.5 h1 M993.5 413.0 v-1 M993.5 424.0 v1"/></g>
<g stroke="#c04000" fill="none" shape-rendering="crispEdges"><circle cx="1045.5" cy="413.5" r="5.5" stroke-width="1.15"/><path d="M1040.0 413.5 h-1 M1051.0 413.5 h1 M1045.5 408.0 v-1 M1045.5 419.0 v1"/></g>
<g stroke="#c04000" fill="none" shape-rendering="crispEdges"><circle cx="1052.5" cy="474.5" r="5.5" stroke-width="1.15"/><path d="M1047.0 474.5 h-1 M1058.0 474.5 h1 M1052.5 469.0 v-1 M1052.5 480.0 v1"/></g>
<g stroke="#c04000" fill="none" shape-rendering="crispEdges"><circle cx="1104.5" cy="382.5" r="5.5" stroke-width="1.15"/><path d="M1099.0 382.5 h-1 M1110.0 382.5 h1 M1104.5 377.0 v-1 M1104.5 388.0 v1"/></g>
<g stroke="#c04000" fill="none" shape-rendering="crispEdges"><circle cx="1098.5" cy="426.5" r="5.5" stroke-width="1.15"/><path d="M1093.0 426.5 h-1 M1104.0 426.5 h1 M1098.5 421.0 v-1 M1098.5 432.0 v1"/></g>
<g stroke="#c04000" fill="none" shape-rendering="crispEdges"><circle cx="1151.5" cy="409.5" r="5.5" stroke-width="1.15"/><path d="M1146.0 409.5 h-1 M1157.0 409.5 h1 M1151.5 404.0 v-1 M1151.5 415.0 v1"/></g>
<g stroke="#c04000" fill="none" shape-rendering="crispEdges"><circle cx="1157.5" cy="425.5" r="5.5" stroke-width="1.15"/><path d="M1152.0 425.5 h-1 M1163.0 425.5 h1 M1157.5 420.0 v-1 M1157.5 431.0 v1"/></g>
<g stroke="#c04000" fill="none" shape-rendering="crispEdges"><circle cx="1203.5" cy="420.5" r="5.5" stroke-width="1.15"/><path d="M1198.0 420.5 h-1 M1209.0 420.5 h1 M1203.5 415.0 v-1 M1203.5 426.0 v1"/></g>
<g stroke="#c04000" fill="none" shape-rendering="crispEdges"><circle cx="1210.5" cy="421.5" r="5.5" stroke-width="1.15"/><path d="M1205.0 421.5 h-1 M1216.0 421.5 h1 M1210.5 416.0 v-1 M1210.5 427.0 v1"/></g>
<g stroke="#c04000" fill="none" shape-rendering="crispEdges"><circle cx="1256.5" cy="414.5" r="5.5" stroke-width="1.15"/><path d="M1251.0 414.5 h-1 M1262.0 414.5 h1 M1256.5 409.0 v-1 M1256.5 420.0 v1"/></g>
<g stroke="#c04000" fill="none" shape-rendering="crispEdges"><circle cx="1262.5" cy="419.5" r="5.5" stroke-width="1.15"/><path d="M1257.0 419.5 h-1 M1268.0 419.5 h1 M1262.5 414.0 v-1 M1262.5 425.0 v1"/></g>
<g stroke="#c04000" fill="none" shape-rendering="crispEdges"><circle cx="1309.5" cy="428.5" r="5.5" stroke-width="1.15"/><path d="M1304.0 428.5 h-1 M1315.0 428.5 h1 M1309.5 423.0 v-1 M1309.5 434.0 v1"/></g>
<g stroke="#c04000" fill="none" shape-rendering="crispEdges"><circle cx="1315.5" cy="430.5" r="5.5" stroke-width="1.15"/><path d="M1310.0 430.5 h-1 M1321.0 430.5 h1 M1315.5 425.0 v-1 M1315.5 436.0 v1"/></g>
<g stroke="#c04000" fill="none" shape-rendering="crispEdges"><circle cx="1362.5" cy="426.5" r="5.5" stroke-width="1.15"/><path d="M1357.0 426.5 h-1 M1368.0 426.5 h1 M1362.5 421.0 v-1 M1362.5 432.0 v1"/></g>
<g shape-rendering="crispEdges" stroke="#c8c800"><circle cx="105.5" cy="534.5" r="5.5" fill="#c8c800" stroke-width="1"/><path d="M100.0 534.5 h-1 M111.0 534.5 h1 M105.5 529.0 v-1 M105.5 540.0 v1"/></g>
<g shape-rendering="crispEdges" stroke="#c8c800"><circle cx="151.5" cy="534.5" r="5.5" fill="#c8c800" stroke-width="1"/><path d="M146.0 534.5 h-1 M157.0 534.5 h1 M151.5 529.0 v-1 M151.5 540.0 v1"/></g>
<g shape-rendering="crispEdges" stroke="#c8c800"><circle cx="208.5" cy="534.5" r="5.5" fill="#c8c800" stroke-width="1"/><path d="M203.0 534.5 h-1 M214.0 534.5 h1 M208.5 529.0 v-1 M208.5 540.0 v1"/></g>
<g shape-rendering="crispEdges" stroke="#c8c800"><circle cx="261.5" cy="534.5" r="5.5" fill="#c8c800" stroke-width="1"/><path d="M256.0 534.5 h-1 M267.0 534.5 h1 M261.5 529.0 v-1 M261.5 540.0 v1"/></g>
<g shape-rendering="crispEdges" stroke="#c8c800"><circle cx="307.5" cy="534.5" r="5.5" fill="#c8c800" stroke-width="1"/><path d="M302.0 534.5 h-1 M313.0 534.5 h1 M307.5 529.0 v-1 M307.5 540.0 v1"/></g>
<g shape-rendering="crispEdges" stroke="#c8c800"><circle cx="360.5" cy="534.5" r="5.5" fill="#c8c800" stroke-width="1"/><path d="M355.0 534.5 h-1 M366.0 534.5 h1 M360.5 529.0 v-1 M360.5 540.0 v1"/></g>
<g shape-rendering="crispEdges" stroke="#c8c800"><circle cx="366.5" cy="531.5" r="5.5" fill="#c8c800" stroke-width="1"/><path d="M361.0 531.5 h-1 M372.0 531.5 h1 M366.5 526.0 v-1 M366.5 537.0 v1"/></g>
<g shape-rendering="crispEdges" stroke="#c8c800"><circle cx="419.5" cy="534.5" r="5.5" fill="#c8c800" stroke-width="1"/><path d="M414.0 534.5 h-1 M425.0 534.5 h1 M419.5 529.0 v-1 M419.5 540.0 v1"/></g>
<g shape-rendering="crispEdges" stroke="#c8c800"><circle cx="413.5" cy="534.5" r="5.5" fill="#c8c800" stroke-width="1"/><path d="M408.0 534.5 h-1 M419.0 534.5 h1 M413.5 529.0 v-1 M413.5 540.0 v1"/></g>
<g shape-rendering="crispEdges" stroke="#c8c800"><circle cx="255.5" cy="534.5" r="5.5" fill="#c8c800" stroke-width="1"/><path d="M250.0 534.5 h-1 M261.0 534.5 h1 M255.5 529.0 v-1 M255.5 540.0 v1"/></g>
<g shape-rendering="crispEdges" stroke="#c8c800"><circle cx="314.5" cy="534.5" r="5.5" fill="#c8c800" stroke-width="1"/><path d="M309.0 534.5 h-1 M320.0 534.5 h1 M314.5 529.0 v-1 M314.5 540.0 v1"/></g>
<g shape-rendering="crispEdges" stroke="#c8c800"><circle cx="466.5" cy="534.5" r="5.5" fill="#c8c800" stroke-width="1"/><path d="M461.0 534.5 h-1 M472.0 534.5 h1 M466.5 529.0 v-1 M466.5 540.0 v1"/></g>
<g shape-rendering="crispEdges" stroke="#c8c800"><circle cx="472.5" cy="534.5" r="5.5" fill="#c8c800" stroke-width="1"/><path d="M467.0 534.5 h-1 M478.0 534.5 h1 M472.5 529.0 v-1 M472.5 540.0 v1"/></g>
<g shape-rendering="crispEdges" stroke="#c8c800"><circle cx="518.5" cy="534.5" r="5.5" fill="#c8c800" stroke-width="1"/><path d="M513.0 534.5 h-1 M524.0 534.5 h1 M518.5 529.0 v-1 M518.5 540.0 v1"/></g>
<g shape-rendering="crispEdges" stroke="#c8c800"><circle cx="524.5" cy="528.5" r="5.5" fill="#c8c800" stroke-width="1"/><path d="M519.0 528.5 h-1 M530.0 528.5 h1 M524.5 523.0 v-1 M524.5 534.0 v1"/></g>
<g shape-rendering="crispEdges" stroke="#c8c800"><circle cx="577.5" cy="533.5" r="5.5" fill="#c8c800" stroke-width="1"/><path d="M572.0 533.5 h-1 M583.0 533.5 h1 M577.5 528.0 v-1 M577.5 539.0 v1"/></g>
<g shape-rendering="crispEdges" stroke="#c8c800"><circle cx="571.5" cy="534.5" r="5.5" fill="#c8c800" stroke-width="1"/><path d="M566.0 534.5 h-1 M577.0 534.5 h1 M571.5 529.0 v-1 M571.5 540.0 v1"/></g>
<g shape-rendering="crispEdges" stroke="#c8c800"><circle cx="624.5" cy="534.5" r="5.5" fill="#c8c800" stroke-width="1"/><path d="M619.0 534.5 h-1 M630.0 534.5 h1 M624.5 529.0 v-1 M624.5 540.0 v1"/></g>
<g shape-rendering="crispEdges" stroke="#c8c800"><circle cx="630.5" cy="534.5" r="5.5" fill="#c8c800" stroke-width="1"/><path d="M625.0 534.5 h-1 M636.0 534.5 h1 M630.5 529.0 v-1 M630.5 540.0 v1"/></g>
<g shape-rendering="crispEdges" stroke="#c8c800"><circle cx="676.5" cy="534.5" r="5.5" fill="#c8c800" stroke-width="1"/><path d="M671.0 534.5 h-1 M682.0 534.5 h1 M676.5 529.0 v-1 M676.5 540.0 v1"/></g>
<g shape-rendering="crispEdges" stroke="#c8c800"><circle cx="683.5" cy="529.5" r="5.5" fill="#c8c800" stroke-width="1"/><path d="M678.0 529.5 h-1 M689.0 529.5 h1 M683.5 524.0 v-1 M683.5 535.0 v1"/></g>
<g shape-rendering="crispEdges" stroke="#c8c800"><circle cx="729.5" cy="534.5" r="5.5" fill="#c8c800" stroke-width="1"/><path d="M724.0 534.5 h-1 M735.0 534.5 h1 M729.5 529.0 v-1 M729.5 540.0 v1"/></g>
<g shape-rendering="crispEdges" stroke="#c8c800"><circle cx="735.5" cy="534.5" r="5.5" fill="#c8c800" stroke-width="1"/><path d="M730.0 534.5 h-1 M741.0 534.5 h1 M735.5 529.0 v-1 M735.5 540.0 v1"/></g>
<g shape-rendering="crispEdges" stroke="#c8c800"><circle cx="788.5" cy="309.5" r="5.5" fill="#c8c800" stroke-width="1"/><path d="M783.0 309.5 h-1 M794.0 309.5 h1 M788.5 304.0 v-1 M788.5 315.0 v1"/></g>
<g shape-rendering="crispEdges" stroke="#c8c800"><circle cx="782.5" cy="534.5" r="5.5" fill="#c8c800" stroke-width="1"/><path d="M777.0 534.5 h-1 M788.0 534.5 h1 M782.5 529.0 v-1 M782.5 540.0 v1"/></g>
<g shape-rendering="crispEdges" stroke="#c8c800"><circle cx="841.5" cy="534.5" r="5.5" fill="#c8c800" stroke-width="1"/><path d="M836.0 534.5 h-1 M847.0 534.5 h1 M841.5 529.0 v-1 M841.5 540.0 v1"/></g>
<g shape-rendering="crispEdges" stroke="#c8c800"><circle cx="835.5" cy="534.5" r="5.5" fill="#c8c800" stroke-width="1"/><path d="M830.0 534.5 h-1 M841.0 534.5 h1 M835.5 529.0 v-1 M835.5 540.0 v1"/></g>
<g shape-rendering="crispEdges" stroke="#c8c800"><circle cx="887.5" cy="534.5" r="5.5" fill="#c8c800" stroke-width="1"/><path d="M882.0 534.5 h-1 M893.0 534.5 h1 M887.5 529.0 v-1 M887.5 540.0 v1"/></g>
<g shape-rendering="crispEdges" stroke="#c8c800"><circle cx="893.5" cy="531.5" r="5.5" fill="#c8c800" stroke-width="1"/><path d="M888.0 531.5 h-1 M899.0 531.5 h1 M893.5 526.0 v-1 M893.5 537.0 v1"/></g>
<g shape-rendering="crispEdges" stroke="#c8c800"><circle cx="946.5" cy="534.5" r="5.5" fill="#c8c800" stroke-width="1"/><path d="M941.0 534.5 h-1 M952.0 534.5 h1 M946.5 529.0 v-1 M946.5 540.0 v1"/></g>
<g shape-rendering="crispEdges" stroke="#c8c800"><circle cx="940.5" cy="531.5" r="5.5" fill="#c8c800" stroke-width="1"/><path d="M935.0 531.5 h-1 M946.0 531.5 h1 M940.5 526.0 v-1 M940.5 537.0 v1"/></g>
<g shape-rendering="crispEdges" stroke="#c8c800"><circle cx="999.5" cy="532.5" r="5.5" fill="#c8c800" stroke-width="1"/><path d="M994.0 532.5 h-1 M1005.0 532.5 h1 M999.5 527.0 v-1 M999.5 538.0 v1"/></g>
<g shape-rendering="crispEdges" stroke="#c8c800"><circle cx="993.5" cy="534.5" r="5.5" fill="#c8c800" stroke-width="1"/><path d="M988.0 534.5 h-1 M999.0 534.5 h1 M993.5 529.0 v-1 M993.5 540.0 v1"/></g>
<g shape-rendering="crispEdges" stroke="#c8c800"><circle cx="1045.5" cy="534.5" r="5.5" fill="#c8c800" stroke-width="1"/><path d="M1040.0 534.5 h-1 M1051.0 534.5 h1 M1045.5 529.0 v-1 M1045.5 540.0 v1"/></g>
<g shape-rendering="crispEdges" stroke="#c8c800"><circle cx="1052.5" cy="534.5" r="5.5" fill="#c8c800" stroke-width="1"/><path d="M1047.0 534.5 h-1 M1058.0 534.5 h1 M1052.5 529.0 v-1 M1052.5 540.0 v1"/></g>
<g shape-rendering="crispEdges" stroke="#c8c800"><circle cx="1104.5" cy="534.5" r="5.5" fill="#c8c800" stroke-width="1"/><path d="M1099.0 534.5 h-1 M1110.0 534.5 h1 M1104.5 529.0 v-1 M1104.5 540.0 v1"/></g>
<g shape-rendering="crispEdges" stroke="#c8c800"><circle cx="1098.5" cy="531.5" r="5.5" fill="#c8c800" stroke-width="1"/><path d="M1093.0 531.5 h-1 M1104.0 531.5 h1 M1098.5 526.0 v-1 M1098.5 537.0 v1"/></g>
<g shape-rendering="crispEdges" stroke="#c8c800"><circle cx="1151.5" cy="534.5" r="5.5" fill="#c8c800" stroke-width="1"/><path d="M1146.0 534.5 h-1 M1157.0 534.5 h1 M1151.5 529.0 v-1 M1151.5 540.0 v1"/></g>
<g shape-rendering="crispEdges" stroke="#c8c800"><circle cx="1157.5" cy="530.5" r="5.5" fill="#c8c800" stroke-width="1"/><path d="M1152.0 530.5 h-1 M1163.0 530.5 h1 M1157.5 525.0 v-1 M1157.5 536.0 v1"/></g>
<g shape-rendering="crispEdges" stroke="#c8c800"><circle cx="1203.5" cy="534.5" r="5.5" fill="#c8c800" stroke-width="1"/><path d="M1198.0 534.5 h-1 M1209.0 534.5 h1 M1203.5 529.0 v-1 M1203.5 540.0 v1"/></g>
<g shape-rendering="crispEdges" stroke="#c8c800"><circle cx="1210.5" cy="532.5" r="5.5" fill="#c8c800" stroke-width="1"/><path d="M1205.0 532.5 h-1 M1216.0 532.5 h1 M1210.5 527.0 v-1 M1210.5 538.0 v1"/></g>
<g shape-rendering="crispEdges" stroke="#c8c800"><circle cx="1256.5" cy="534.5" r="5.5" fill="#c8c800" stroke-width="1"/><path d="M1251.0 534.5 h-1 M1262.0 534.5 h1 M1256.5 529.0 v-1 M1256.5 540.0 v1"/></g>
<g shape-rendering="crispEdges" stroke="#c8c800"><circle cx="1262.5" cy="532.5" r="5.5" fill="#c8c800" stroke-width="1"/><path d="M1257.0 532.5 h-1 M1268.0 532.5 h1 M1262.5 527.0 v-1 M1262.5 538.0 v1"/></g>
<g shape-rendering="crispEdges" stroke="#c8c800"><circle cx="1309.5" cy="531.5" r="5.5" fill="#c8c800" stroke-width="1"/><path d="M1304.0 531.5 h-1 M1315.0 531.5 h1 M1309.5 526.0 v-1 M1309.5 537.0 v1"/></g>
<g shape-rendering="crispEdges" stroke="#c8c800"><circle cx="1315.5" cy="534.5" r="5.5" fill="#c8c800" stroke-width="1"/><path d="M1310.0 534.5 h-1 M1321.0 534.5 h1 M1315.5 529.0 v-1 M1315.5 540.0 v1"/></g>
<g shape-rendering="crispEdges" stroke="#c8c800"><circle cx="1362.5" cy="534.5" r="5.5" fill="#c8c800" stroke-width="1"/><path d="M1357.0 534.5 h-1 M1368.0 534.5 h1 M1362.5 529.0 v-1 M1362.5 540.0 v1"/></g>
<path d="M489.5 456.5 L481.5 468.5 L497.5 468.5 Z" fill="none" stroke="#4169e1" shape-rendering="crispEdges"/>
<path d="M508.5 456.5 L500.5 468.5 L516.5 468.5 Z" fill="none" stroke="#4169e1" shape-rendering="crispEdges"/>
<path d="M646.5 456.5 L638.5 468.5 L654.5 468.5 Z" fill="none" stroke="#4169e1" shape-rendering="crispEdges"/>
<path d="M926.5 456.5 L918.5 468.5 L934.5 468.5 Z" fill="none" stroke="#4169e1" shape-rendering="crispEdges"/>
<path d="M1006.5 456.5 L998.5 468.5 L1014.5 468.5 Z" fill="none" stroke="#4169e1" shape-rendering="crispEdges"/>
<g shape-rendering="crispEdges" fill="#306080">
<path d="M93 350 H163 L155 363 H101 Z"/>
<path d="M198 350 H1375 L1367 363 H206 Z"/>
<rect x="108" y="362" width="1" height="1" fill="#fff"/>
<rect x="361" y="362" width="1" height="1" fill="#fff"/>
<rect x="422" y="362" width="1" height="1" fill="#fff"/>
<rect x="504" y="362" width="1" height="1" fill="#fff"/>
<rect x="564" y="362" width="1" height="1" fill="#fff"/>
<rect x="659" y="362" width="1" height="1" fill="#fff"/>
<rect x="720" y="362" width="1" height="1" fill="#fff"/>
<rect x="759" y="362" width="1" height="1" fill="#fff"/>
<rect x="815" y="362" width="1" height="1" fill="#fff"/>
<rect x="877" y="362" width="1" height="1" fill="#fff"/>
<rect x="959" y="362" width="1" height="1" fill="#fff"/>
<rect x="1075" y="362" width="1" height="1" fill="#fff"/>
<rect x="1134" y="362" width="1" height="1" fill="#fff"/>
<rect x="1290" y="362" width="1" height="1" fill="#fff"/>
<path d="M102.5 352.5 L104.5 356.5" stroke="#fff" fill="none"/>
</g>
<rect x="101.5" y="57.5" width="1265" height="482" fill="none" stroke="#000" shape-rendering="crispEdges"/>
<path d="M1288 72.5 H1345" stroke="#ff0000" shape-rendering="crispEdges"/>
<path d="M1288 91.5 H1345" stroke="#00c000" shape-rendering="crispEdges"/>
<path d="M1288 110.5 H1345" stroke="#0080ff" shape-rendering="crispEdges"/>
<rect x="1310.5" y="123.5" width="12" height="12" fill="none" stroke="#c000ff" shape-rendering="crispEdges"/>
<rect x="1310.0" y="142.0" width="13" height="13" fill="#00eeee" shape-rendering="crispEdges"/>
<g stroke="#c04000" fill="none" shape-rendering="crispEdges"><circle cx="1316.5" cy="167.5" r="5.5" stroke-width="1.15"/><path d="M1311.0 167.5 h-1 M1322.0 167.5 h1 M1316.5 162.0 v-1 M1316.5 173.0 v1"/></g>
<g shape-rendering="crispEdges" stroke="#c8c800"><circle cx="1316.5" cy="186.5" r="5.5" fill="#c8c800" stroke-width="1"/><path d="M1311.0 186.5 h-1 M1322.0 186.5 h1 M1316.5 181.0 v-1 M1316.5 192.0 v1"/></g>
<path d="M1316.5 197.5 L1308.5 209.5 L1324.5 209.5 Z" fill="none" stroke="#4169e1" shape-rendering="crispEdges"/>
<path d="M1316.5 216.5 L1308.5 228.5 L1324.5 228.5 Z" fill="#ffc020" stroke="#ffc020" shape-rendering="crispEdges"/>
<path d="M1310.0 243.5 h13 M1316.5 237.0 v13" stroke="#008040" shape-rendering="crispEdges"/>
<path d="M1316.5 270.5 L1308.5 258.5 L1324.5 258.5 Z" fill="none" stroke="#c080ff" shape-rendering="crispEdges"/>
<path d="M1316.5 289.5 L1308.5 277.5 L1324.5 277.5 Z" fill="none" stroke="#306080" shape-rendering="crispEdges"/>
</svg></body></html>
